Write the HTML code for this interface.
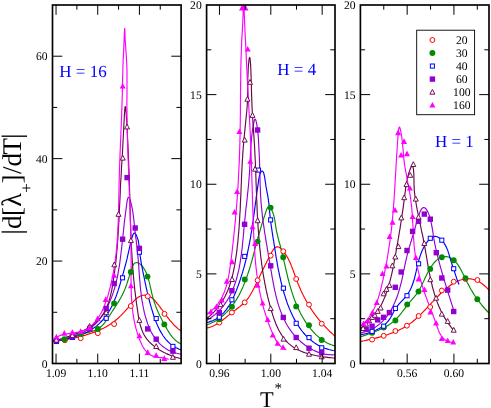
<!DOCTYPE html>
<html><head><meta charset="utf-8"><title>plot</title>
<style>
html,body{margin:0;padding:0;background:#fff}
svg{display:block;will-change:transform;transform:translateZ(0)}
text{font-family:"Liberation Serif","DejaVu Serif",serif;fill:#000;text-rendering:geometricPrecision}
</style></head><body>
<svg width="491" height="408" viewBox="0 0 491 408">
<rect width="491" height="408" fill="#fff"/>
<clipPath id="c1"><rect x="52.5" y="5" width="128.6" height="358.5"/></clipPath>
<g clip-path="url(#c1)">
<path d="M52.5 341.5 L54.5 341.3 L56.5 341.0 L58.4 340.8 L60.4 340.5 L62.3 340.2 L64.3 339.9 L66.2 339.5 L68.1 339.2 L70.0 338.8 L72.0 338.4 L73.9 338.0 L75.8 337.6 L77.7 337.1 L79.6 336.6 L81.6 336.1 L83.5 335.6 L85.4 335.1 L87.3 334.5 L89.2 333.9 L91.1 333.2 L93.0 332.6 L94.9 331.9 L96.7 331.2 L98.6 330.4 L100.4 329.6 L102.2 328.7 L103.9 327.9 L105.7 327.0 L107.4 326.0 L109.1 325.0 L110.7 323.9 L112.3 322.8 L113.9 321.7 L115.4 320.5 L116.9 319.3 L118.3 318.0 L119.7 316.6 L121.1 315.3 L122.5 313.8 L123.9 312.4 L125.3 310.9 L126.6 309.3 L128.0 307.8 L129.4 306.1 L130.8 304.5 L132.3 302.8 L133.8 301.2 L135.3 299.6 L136.8 298.3 L138.4 297.1 L140.1 296.2 L141.7 295.5 L143.4 295.2 L145.1 295.1 L146.8 295.3 L148.5 295.8 L150.1 296.6 L151.7 297.7 L153.2 299.0 L154.7 300.5 L156.1 302.1 L157.5 303.8 L158.8 305.5 L160.1 307.2 L161.3 308.9 L162.6 310.5 L163.8 312.2 L165.0 313.9 L166.2 315.5 L167.4 317.1 L168.6 318.7 L169.8 320.2 L171.1 321.7 L172.4 323.2 L173.7 324.6 L175.0 326.0 L176.5 327.3 L177.9 328.6 L179.5 329.8 L181.1 331.0" fill="none" stroke="#ff0000" stroke-width="1.15" stroke-linejoin="round"/>
<path d="M52.5 341.5 L54.5 341.3 L56.5 341.1 L58.5 340.7 L60.4 340.3 L62.3 339.8 L64.2 339.3 L66.1 338.7 L67.9 338.1 L69.8 337.5 L71.7 336.9 L73.5 336.3 L75.4 335.7 L77.3 335.1 L79.3 334.5 L81.2 334.0 L83.2 333.5 L85.3 333.1 L87.3 332.6 L89.3 332.1 L91.2 331.6 L93.1 331.0 L95.0 330.3 L96.7 329.5 L98.4 328.6 L99.9 327.5 L101.4 326.3 L102.8 324.9 L104.1 323.5 L105.3 321.9 L106.5 320.3 L107.6 318.7 L108.7 317.0 L109.8 315.2 L110.9 313.5 L112.0 311.8 L113.1 310.1 L114.2 308.4 L115.3 306.7 L116.4 305.0 L117.5 303.3 L118.5 301.6 L119.5 299.9 L120.5 298.2 L121.4 296.6 L122.3 294.9 L123.1 293.2 L123.9 291.6 L124.6 289.9 L125.3 288.2 L125.9 286.5 L126.6 284.7 L127.2 282.9 L127.8 281.0 L128.4 279.0 L129.1 276.9 L129.7 274.7 L130.4 272.4 L131.2 269.9 L132.0 267.5 L133.0 265.3 L134.1 263.6 L135.5 262.7 L136.9 262.5 L138.5 263.1 L140.0 264.1 L141.4 265.3 L142.6 266.6 L143.7 268.1 L144.7 269.7 L145.6 271.4 L146.4 273.2 L147.2 275.1 L147.9 277.1 L148.5 279.1 L149.0 281.2 L149.6 283.3 L150.0 285.4 L150.5 287.5 L151.0 289.7 L151.5 291.8 L151.9 293.8 L152.5 295.9 L153.0 297.9 L153.6 299.8 L154.2 301.7 L154.8 303.6 L155.4 305.4 L156.1 307.2 L156.8 309.0 L157.6 310.8 L158.3 312.5 L159.1 314.2 L159.9 315.9 L160.8 317.6 L161.6 319.3 L162.5 321.0 L163.4 322.7 L164.4 324.4 L165.3 326.2 L166.3 327.9 L167.3 329.7 L168.4 331.4 L169.5 333.1 L170.6 334.8 L171.8 336.4 L173.1 337.9 L174.5 339.4 L176.0 340.7 L177.6 341.9 L179.3 343.0 L181.1 343.9" fill="none" stroke="#008b00" stroke-width="1.15" stroke-linejoin="round"/>
<path d="M52.5 341.5 L54.3 341.2 L56.1 340.9 L57.9 340.6 L59.8 340.3 L61.7 339.9 L63.7 339.5 L65.7 339.1 L67.7 338.6 L69.7 338.1 L71.7 337.6 L73.7 337.0 L75.8 336.4 L77.8 335.8 L79.7 335.1 L81.7 334.4 L83.6 333.6 L85.5 332.8 L87.3 331.9 L89.1 330.9 L90.8 330.0 L92.5 328.9 L94.1 327.8 L95.7 326.6 L97.2 325.4 L98.6 324.2 L100.0 322.9 L101.3 321.5 L102.6 320.1 L103.8 318.7 L105.0 317.2 L106.2 315.6 L107.2 314.1 L108.3 312.5 L109.3 310.8 L110.3 309.1 L111.2 307.4 L112.1 305.7 L112.9 303.9 L113.7 302.1 L114.5 300.3 L115.2 298.5 L116.0 296.6 L116.7 294.7 L117.3 292.8 L118.0 290.9 L118.6 288.9 L119.2 287.0 L119.8 285.0 L120.4 283.1 L120.9 281.1 L121.5 279.1 L122.1 277.2 L122.6 275.2 L123.2 273.3 L123.7 271.3 L124.3 269.4 L124.8 267.4 L125.3 265.5 L125.8 263.6 L126.3 261.7 L126.8 259.9 L127.2 258.0 L127.6 256.2 L128.0 254.4 L128.4 252.6 L128.8 250.8 L129.2 249.0 L129.6 247.1 L130.1 245.1 L130.6 243.0 L131.2 240.6 L131.8 238.1 L132.6 235.7 L133.4 233.8 L134.4 233.0 L135.4 233.6 L136.4 235.3 L137.2 237.4 L137.9 239.4 L138.4 241.5 L138.7 243.5 L139.0 245.5 L139.2 247.5 L139.4 249.5 L139.6 251.5 L139.8 253.5 L140.1 255.5 L140.4 257.5 L140.7 259.4 L141.0 261.4 L141.3 263.4 L141.7 265.3 L142.1 267.3 L142.5 269.3 L142.8 271.2 L143.2 273.2 L143.6 275.1 L144.0 277.0 L144.4 279.0 L144.8 280.9 L145.2 282.8 L145.6 284.7 L146.0 286.6 L146.4 288.6 L146.9 290.5 L147.3 292.4 L147.8 294.3 L148.2 296.2 L148.7 298.1 L149.2 300.0 L149.7 301.9 L150.2 303.8 L150.8 305.8 L151.3 307.7 L151.9 309.6 L152.5 311.5 L153.1 313.5 L153.7 315.4 L154.4 317.3 L155.1 319.2 L155.8 321.2 L156.5 323.0 L157.3 324.9 L158.1 326.8 L159.0 328.6 L159.9 330.4 L160.9 332.1 L161.9 333.8 L162.9 335.5 L164.1 337.0 L165.2 338.6 L166.5 340.1 L167.8 341.5 L169.2 342.8 L170.6 344.1 L172.2 345.3 L173.8 346.4 L175.5 347.4 L177.3 348.3 L179.1 349.2 L181.1 349.9" fill="none" stroke="#0000ff" stroke-width="1.15" stroke-linejoin="round"/>
<path d="M52.5 341.5 L54.4 341.1 L56.3 340.7 L58.2 340.2 L60.1 339.8 L62.1 339.3 L64.0 338.9 L66.0 338.4 L68.0 337.9 L69.9 337.3 L71.9 336.8 L73.8 336.1 L75.7 335.5 L77.6 334.8 L79.5 334.1 L81.3 333.3 L83.2 332.4 L84.9 331.5 L86.6 330.6 L88.3 329.5 L89.9 328.4 L91.5 327.3 L93.0 326.1 L94.5 324.8 L95.9 323.4 L97.2 322.0 L98.5 320.5 L99.8 319.0 L101.0 317.5 L102.1 315.9 L103.2 314.2 L104.3 312.5 L105.3 310.8 L106.3 309.0 L107.2 307.3 L108.1 305.5 L108.9 303.6 L109.8 301.8 L110.5 299.9 L111.3 298.0 L112.0 296.1 L112.7 294.2 L113.3 292.3 L113.9 290.4 L114.5 288.5 L115.0 286.5 L115.5 284.6 L116.0 282.6 L116.5 280.7 L117.0 278.7 L117.4 276.7 L117.8 274.8 L118.1 272.8 L118.5 270.8 L118.8 268.9 L119.2 266.9 L119.5 264.9 L119.8 262.9 L120.0 261.0 L120.3 259.0 L120.5 257.1 L120.8 255.1 L121.0 253.2 L121.2 251.3 L121.5 249.4 L121.7 247.5 L121.9 245.6 L122.1 243.7 L122.3 241.8 L122.5 239.9 L122.7 238.1 L122.9 236.3 L123.1 234.4 L123.3 232.6 L123.5 230.7 L123.7 228.8 L123.9 226.9 L124.1 225.0 L124.3 223.0 L124.6 220.9 L124.8 218.8 L125.1 216.6 L125.4 214.4 L125.7 212.0 L126.0 209.6 L126.3 207.0 L126.7 204.4 L127.0 201.9 L127.4 199.7 L127.9 198.1 L128.4 197.3 L129.0 197.5 L129.6 198.6 L130.2 200.3 L130.8 202.2 L131.3 204.3 L131.8 206.3 L132.2 208.4 L132.6 210.5 L132.9 212.6 L133.2 214.8 L133.5 216.9 L133.7 219.1 L134.0 221.2 L134.2 223.3 L134.4 225.4 L134.7 227.5 L134.9 229.6 L135.1 231.6 L135.4 233.6 L135.6 235.6 L135.8 237.6 L136.1 239.5 L136.3 241.5 L136.5 243.4 L136.8 245.4 L137.0 247.3 L137.2 249.2 L137.4 251.2 L137.6 253.1 L137.8 255.0 L138.0 257.0 L138.1 258.9 L138.3 260.9 L138.5 262.8 L138.6 264.8 L138.8 266.8 L138.9 268.7 L139.0 270.7 L139.2 272.7 L139.3 274.7 L139.5 276.7 L139.6 278.7 L139.8 280.6 L140.0 282.6 L140.1 284.6 L140.3 286.6 L140.5 288.6 L140.7 290.6 L141.0 292.6 L141.2 294.6 L141.5 296.6 L141.7 298.6 L142.0 300.5 L142.4 302.5 L142.7 304.5 L143.1 306.5 L143.5 308.5 L143.9 310.4 L144.3 312.4 L144.8 314.3 L145.3 316.3 L145.9 318.2 L146.5 320.1 L147.1 322.0 L147.7 323.9 L148.5 325.8 L149.2 327.6 L150.0 329.4 L150.8 331.2 L151.7 332.9 L152.7 334.6 L153.7 336.2 L154.8 337.8 L155.9 339.3 L157.1 340.8 L158.3 342.2 L159.6 343.6 L161.0 344.9 L162.4 346.2 L163.9 347.3 L165.5 348.4 L167.2 349.4 L168.9 350.4 L170.8 351.2 L172.7 352.0 L174.6 352.6 L176.7 353.2 L178.9 353.7 L181.1 354.1" fill="none" stroke="#9400d3" stroke-width="1.15" stroke-linejoin="round"/>
<path d="M52.5 341.5 L54.2 341.0 L56.0 340.4 L57.8 339.9 L59.6 339.3 L61.5 338.7 L63.4 338.2 L65.4 337.6 L67.3 336.9 L69.3 336.3 L71.2 335.6 L73.2 334.9 L75.2 334.1 L77.1 333.4 L79.0 332.6 L81.0 331.7 L82.8 330.9 L84.7 329.9 L86.5 329.0 L88.3 328.0 L90.0 326.9 L91.7 325.8 L93.3 324.7 L94.8 323.5 L96.3 322.2 L97.7 320.9 L99.0 319.5 L100.3 318.0 L101.4 316.5 L102.5 315.0 L103.6 313.4 L104.5 311.7 L105.4 310.0 L106.2 308.3 L107.0 306.5 L107.7 304.7 L108.4 302.9 L109.0 301.0 L109.5 299.1 L110.1 297.2 L110.6 295.2 L111.0 293.3 L111.5 291.3 L111.9 289.3 L112.2 287.3 L112.6 285.3 L112.9 283.3 L113.2 281.3 L113.5 279.2 L113.8 277.2 L114.1 275.2 L114.4 273.2 L114.7 271.2 L114.9 269.2 L115.2 267.2 L115.4 265.3 L115.6 263.3 L115.9 261.3 L116.1 259.3 L116.3 257.3 L116.5 255.3 L116.7 253.3 L116.8 251.3 L117.0 249.4 L117.2 247.4 L117.3 245.4 L117.5 243.4 L117.6 241.5 L117.8 239.5 L117.9 237.5 L118.0 235.5 L118.2 233.5 L118.3 231.6 L118.4 229.6 L118.5 227.6 L118.6 225.6 L118.7 223.7 L118.9 221.7 L119.0 219.7 L119.1 217.7 L119.2 215.8 L119.2 213.8 L119.3 211.8 L119.4 209.8 L119.5 207.8 L119.6 205.9 L119.7 203.9 L119.8 201.9 L119.9 199.9 L120.0 197.9 L120.1 195.9 L120.2 193.9 L120.3 191.9 L120.3 189.9 L120.4 187.9 L120.5 185.9 L120.6 183.9 L120.7 181.9 L120.8 179.9 L121.0 177.9 L121.1 175.9 L121.2 173.9 L121.3 171.9 L121.4 169.8 L121.5 167.8 L121.6 165.8 L121.8 163.8 L121.9 161.8 L122.0 159.8 L122.1 157.8 L122.2 155.8 L122.4 153.8 L122.5 151.9 L122.6 149.9 L122.7 147.9 L122.8 146.0 L122.9 144.1 L123.0 142.1 L123.1 140.2 L123.2 138.3 L123.3 136.4 L123.4 134.5 L123.5 132.6 L123.6 130.6 L123.7 128.6 L123.8 126.5 L123.9 124.3 L124.0 122.1 L124.2 119.7 L124.3 117.2 L124.4 114.6 L124.6 112.1 L124.8 109.8 L124.9 107.9 L125.1 106.8 L125.3 106.5 L125.5 107.2 L125.7 108.6 L125.9 110.6 L126.1 112.8 L126.3 115.0 L126.4 117.2 L126.6 119.4 L126.7 121.6 L126.8 123.8 L126.9 126.0 L127.1 128.2 L127.2 130.3 L127.3 132.5 L127.4 134.6 L127.5 136.7 L127.6 138.7 L127.7 140.8 L127.8 142.8 L127.9 144.9 L128.0 146.9 L128.1 148.9 L128.2 150.9 L128.3 152.9 L128.4 154.9 L128.4 156.8 L128.5 158.8 L128.6 160.8 L128.7 162.7 L128.7 164.7 L128.8 166.6 L128.9 168.6 L129.0 170.5 L129.0 172.4 L129.1 174.4 L129.2 176.3 L129.2 178.3 L129.3 180.2 L129.3 182.2 L129.4 184.1 L129.5 186.1 L129.5 188.1 L129.6 190.0 L129.6 192.0 L129.7 194.0 L129.7 196.0 L129.8 197.9 L129.8 199.9 L129.9 201.9 L129.9 203.9 L130.0 205.9 L130.1 207.9 L130.1 209.9 L130.2 211.9 L130.2 213.9 L130.3 215.9 L130.3 217.8 L130.4 219.9 L130.5 221.9 L130.5 223.9 L130.6 225.9 L130.7 227.9 L130.7 229.9 L130.8 231.9 L130.9 233.9 L131.0 235.9 L131.1 237.9 L131.2 239.9 L131.2 241.9 L131.3 243.9 L131.4 245.9 L131.5 247.9 L131.6 249.9 L131.7 251.9 L131.9 253.9 L132.0 255.9 L132.1 257.9 L132.2 259.9 L132.4 261.9 L132.5 263.9 L132.6 265.9 L132.8 267.9 L132.9 269.9 L133.1 271.9 L133.3 273.9 L133.4 275.8 L133.6 277.8 L133.8 279.8 L134.0 281.8 L134.2 283.7 L134.4 285.7 L134.6 287.7 L134.8 289.7 L135.0 291.6 L135.3 293.6 L135.5 295.6 L135.8 297.5 L136.0 299.5 L136.3 301.5 L136.5 303.4 L136.8 305.4 L137.1 307.4 L137.4 309.4 L137.7 311.4 L138.0 313.3 L138.3 315.3 L138.6 317.3 L139.0 319.3 L139.4 321.2 L139.8 323.2 L140.3 325.1 L140.9 327.0 L141.5 328.8 L142.2 330.7 L142.9 332.4 L143.8 334.2 L144.7 335.9 L145.8 337.5 L146.9 339.1 L148.2 340.6 L149.5 342.1 L150.9 343.5 L152.4 344.8 L154.0 346.1 L155.6 347.4 L157.3 348.5 L159.1 349.7 L160.9 350.7 L162.7 351.7 L164.5 352.7 L166.4 353.6 L168.3 354.4 L170.2 355.2 L172.0 356.0 L173.9 356.6 L175.7 357.3 L177.6 357.8 L179.3 358.3 L181.1 358.8" fill="none" stroke="#670748" stroke-width="1.15" stroke-linejoin="round"/>
<path d="M52.5 341.0 L53.8 339.5 L55.3 338.2 L56.9 337.1 L58.6 336.2 L60.4 335.4 L62.3 334.8 L64.3 334.4 L66.3 334.0 L68.3 333.6 L70.4 333.3 L72.5 333.1 L74.5 332.8 L76.5 332.4 L78.5 332.0 L80.5 331.6 L82.3 331.0 L84.1 330.3 L85.8 329.4 L87.4 328.5 L89.0 327.5 L90.5 326.4 L91.9 325.1 L93.2 323.8 L94.5 322.5 L95.8 321.0 L97.0 319.5 L98.1 317.9 L99.2 316.2 L100.2 314.5 L101.2 312.7 L102.1 310.9 L103.0 309.1 L103.8 307.2 L104.6 305.3 L105.3 303.3 L106.0 301.3 L106.7 299.3 L107.4 297.3 L108.0 295.3 L108.6 293.3 L109.1 291.3 L109.6 289.3 L110.2 287.3 L110.6 285.3 L111.1 283.3 L111.5 281.4 L112.0 279.5 L112.4 277.5 L112.8 275.6 L113.1 273.7 L113.5 271.8 L113.8 269.8 L114.1 267.9 L114.4 266.0 L114.7 264.1 L115.0 262.2 L115.3 260.3 L115.5 258.3 L115.7 256.4 L116.0 254.4 L116.2 252.5 L116.4 250.5 L116.6 248.6 L116.7 246.6 L116.9 244.6 L117.1 242.7 L117.2 240.7 L117.3 238.7 L117.5 236.7 L117.6 234.7 L117.7 232.8 L117.8 230.8 L117.9 228.8 L118.0 226.8 L118.1 224.8 L118.2 222.7 L118.2 220.7 L118.3 218.7 L118.4 216.7 L118.4 214.7 L118.5 212.7 L118.5 210.7 L118.6 208.7 L118.6 206.6 L118.7 204.6 L118.7 202.6 L118.8 200.6 L118.8 198.6 L118.8 196.5 L118.9 194.5 L118.9 192.5 L119.0 190.5 L119.0 188.5 L119.0 186.5 L119.1 184.5 L119.1 182.4 L119.2 180.4 L119.2 178.4 L119.3 176.4 L119.3 174.4 L119.4 172.4 L119.5 170.4 L119.5 168.4 L119.6 166.4 L119.7 164.4 L119.7 162.4 L119.8 160.4 L119.9 158.5 L120.0 156.5 L120.0 154.5 L120.1 152.5 L120.2 150.5 L120.3 148.5 L120.4 146.5 L120.4 144.6 L120.5 142.6 L120.6 140.6 L120.7 138.6 L120.8 136.6 L120.9 134.6 L120.9 132.7 L121.0 130.7 L121.1 128.7 L121.2 126.7 L121.3 124.7 L121.3 122.8 L121.4 120.8 L121.5 118.8 L121.6 116.8 L121.7 114.8 L121.7 112.8 L121.8 110.9 L121.9 108.9 L121.9 106.9 L122.0 104.9 L122.0 102.9 L122.1 100.9 L122.2 98.9 L122.2 96.9 L122.3 94.9 L122.3 92.9 L122.4 90.9 L122.4 88.9 L122.4 86.9 L122.5 84.9 L122.5 82.9 L122.6 80.9 L122.6 78.9 L122.7 76.9 L122.7 74.9 L122.8 73.0 L122.8 71.0 L122.9 69.0 L122.9 67.0 L123.0 65.0 L123.1 63.0 L123.1 61.1 L123.2 59.1 L123.3 57.1 L123.4 55.1 L123.5 53.1 L123.6 51.1 L123.7 49.1 L123.8 47.0 L123.9 44.8 L124.0 42.6 L124.1 40.3 L124.2 37.9 L124.3 35.5 L124.4 33.1 L124.5 30.9 L124.6 29.3 L124.7 28.4 L124.7 28.6 L124.8 29.7 L124.9 31.4 L125.0 33.7 L125.0 36.1 L125.1 38.6 L125.2 40.9 L125.4 43.2 L125.5 45.4 L125.7 47.5 L125.8 49.6 L126.0 51.6 L126.1 53.6 L126.3 55.6 L126.4 57.6 L126.5 59.5 L126.6 61.5 L126.7 63.5 L126.8 65.4 L126.9 67.4 L126.9 69.4 L127.0 71.4 L127.0 73.4 L127.0 75.4 L127.0 77.4 L127.0 79.4 L127.0 81.4 L127.0 83.4 L127.0 85.4 L127.0 87.4 L127.0 89.4 L127.0 91.4 L127.0 93.4 L127.0 95.4 L127.0 97.4 L126.9 99.4 L126.9 101.4 L126.9 103.4 L126.9 105.4 L126.9 107.4 L127.0 109.4 L127.0 111.4 L127.0 113.4 L127.0 115.4 L127.0 117.4 L127.1 119.4 L127.1 121.4 L127.1 123.4 L127.1 125.4 L127.2 127.3 L127.2 129.3 L127.3 131.3 L127.3 133.3 L127.4 135.3 L127.4 137.3 L127.5 139.3 L127.5 141.3 L127.6 143.3 L127.6 145.3 L127.7 147.2 L127.8 149.2 L127.8 151.2 L127.9 153.2 L128.0 155.2 L128.0 157.2 L128.1 159.2 L128.2 161.1 L128.3 163.1 L128.3 165.1 L128.4 167.1 L128.5 169.1 L128.6 171.1 L128.6 173.0 L128.7 175.0 L128.8 177.0 L128.9 179.0 L128.9 181.0 L129.0 183.0 L129.1 185.0 L129.2 186.9 L129.2 188.9 L129.3 190.9 L129.4 192.9 L129.5 194.9 L129.6 196.9 L129.6 198.9 L129.7 200.8 L129.8 202.8 L129.8 204.8 L129.9 206.8 L130.0 208.8 L130.1 210.8 L130.1 212.8 L130.2 214.8 L130.3 216.8 L130.3 218.8 L130.4 220.8 L130.4 222.8 L130.5 224.8 L130.5 226.7 L130.6 228.7 L130.7 230.7 L130.7 232.7 L130.7 234.7 L130.8 236.7 L130.8 238.7 L130.9 240.7 L130.9 242.8 L130.9 244.8 L131.0 246.8 L131.0 248.8 L131.0 250.8 L131.0 252.8 L131.0 254.8 L131.1 256.8 L131.1 258.8 L131.1 260.8 L131.1 262.9 L131.1 264.9 L131.1 266.9 L131.1 268.9 L131.0 270.9 L131.0 273.0 L131.0 275.0 L131.0 277.0 L131.0 279.0 L131.1 281.0 L131.1 283.1 L131.1 285.1 L131.1 287.1 L131.2 289.1 L131.2 291.1 L131.3 293.1 L131.4 295.1 L131.5 297.1 L131.6 299.1 L131.7 301.1 L131.9 303.1 L132.0 305.0 L132.2 307.0 L132.4 309.0 L132.7 311.0 L132.9 312.9 L133.2 314.9 L133.5 316.8 L133.8 318.8 L134.2 320.7 L134.6 322.6 L135.0 324.5 L135.5 326.4 L135.9 328.3 L136.5 330.2 L137.0 332.1 L137.6 334.0 L138.2 335.9 L138.9 337.7 L139.6 339.6 L140.4 341.4 L141.2 343.2 L142.0 345.0 L142.9 346.7 L143.9 348.4 L145.0 350.0 L146.2 351.4 L147.5 352.8 L149.0 354.0 L150.6 355.1 L152.3 355.9 L154.2 356.6 L156.3 357.1 L158.6 357.4 L160.8 357.6 L163.1 357.9 L165.1 358.2 L167.0 358.7 L168.6 359.5" fill="none" stroke="#ff00ff" stroke-width="1.15" stroke-linejoin="round"/>
<circle cx="64.9" cy="340.3" r="2.45" fill="#fff" stroke="#ff0000" stroke-width="1"/>
<circle cx="80.7" cy="338.2" r="2.45" fill="#fff" stroke="#ff0000" stroke-width="1"/>
<circle cx="97.8" cy="333.2" r="2.45" fill="#fff" stroke="#ff0000" stroke-width="1"/>
<circle cx="114.1" cy="324.1" r="2.45" fill="#fff" stroke="#ff0000" stroke-width="1"/>
<circle cx="130.8" cy="306.0" r="2.45" fill="#fff" stroke="#ff0000" stroke-width="1"/>
<circle cx="147.7" cy="296.3" r="2.45" fill="#fff" stroke="#ff0000" stroke-width="1"/>
<circle cx="164.5" cy="313.9" r="2.45" fill="#fff" stroke="#ff0000" stroke-width="1"/>
<circle cx="64.3" cy="339.3" r="2.95" fill="#008b00"/>
<circle cx="80.7" cy="334.1" r="2.95" fill="#008b00"/>
<circle cx="97.8" cy="329.0" r="2.95" fill="#008b00"/>
<circle cx="114.1" cy="303.4" r="2.95" fill="#008b00"/>
<circle cx="130.8" cy="272.0" r="2.95" fill="#008b00"/>
<circle cx="147.5" cy="276.6" r="2.95" fill="#008b00"/>
<circle cx="164.3" cy="324.4" r="2.95" fill="#008b00"/>
<rect x="54.35" y="339.45" width="4.1" height="4.1" fill="#fff" stroke="#0000ff" stroke-width="1"/>
<rect x="70.35" y="335.35" width="4.1" height="4.1" fill="#fff" stroke="#0000ff" stroke-width="1"/>
<rect x="87.75" y="326.35" width="4.1" height="4.1" fill="#fff" stroke="#0000ff" stroke-width="1"/>
<rect x="104.15" y="316.25" width="4.1" height="4.1" fill="#fff" stroke="#0000ff" stroke-width="1"/>
<rect x="120.45" y="275.75" width="4.1" height="4.1" fill="#fff" stroke="#0000ff" stroke-width="1"/>
<rect x="137.35" y="250.15" width="4.1" height="4.1" fill="#fff" stroke="#0000ff" stroke-width="1"/>
<rect x="154.15" y="316.45" width="4.1" height="4.1" fill="#fff" stroke="#0000ff" stroke-width="1"/>
<rect x="170.85" y="344.35" width="4.1" height="4.1" fill="#fff" stroke="#0000ff" stroke-width="1"/>
<rect x="53.7" y="337.8" width="5.4" height="5.4" fill="#9400d3"/>
<rect x="69.7" y="333.8" width="5.4" height="5.4" fill="#9400d3"/>
<rect x="87.1" y="326.3" width="5.4" height="5.4" fill="#9400d3"/>
<rect x="103.5" y="305.8" width="5.4" height="5.4" fill="#9400d3"/>
<rect x="111.5" y="280.8" width="5.4" height="5.4" fill="#9400d3"/>
<rect x="119.9" y="236.5" width="5.4" height="5.4" fill="#9400d3"/>
<rect x="124.4" y="174.9" width="5.4" height="5.4" fill="#9400d3"/>
<rect x="132.5" y="225.3" width="5.4" height="5.4" fill="#9400d3"/>
<rect x="136.7" y="245.7" width="5.4" height="5.4" fill="#9400d3"/>
<rect x="145.0" y="326.2" width="5.4" height="5.4" fill="#9400d3"/>
<rect x="153.5" y="336.5" width="5.4" height="5.4" fill="#9400d3"/>
<rect x="170.2" y="348.5" width="5.4" height="5.4" fill="#9400d3"/>
<path d="M56.4 337.3 L58.9 342.1 L53.9 342.1 Z" fill="#fff" stroke="#670748" stroke-width="0.95"/>
<path d="M72.4 332.8 L74.9 337.6 L69.9 337.6 Z" fill="#fff" stroke="#670748" stroke-width="0.95"/>
<path d="M89.6 323.5 L92.1 328.3 L87.1 328.3 Z" fill="#fff" stroke="#670748" stroke-width="0.95"/>
<path d="M106.2 309.9 L108.7 314.7 L103.7 314.7 Z" fill="#fff" stroke="#670748" stroke-width="0.95"/>
<path d="M114.3 262.0 L116.8 266.8 L111.8 266.8 Z" fill="#fff" stroke="#670748" stroke-width="0.95"/>
<path d="M118.5 211.5 L121.0 216.3 L116.0 216.3 Z" fill="#fff" stroke="#670748" stroke-width="0.95"/>
<path d="M122.8 155.3 L125.3 160.1 L120.3 160.1 Z" fill="#fff" stroke="#670748" stroke-width="0.95"/>
<path d="M127.0 124.1 L129.5 128.9 L124.5 128.9 Z" fill="#fff" stroke="#670748" stroke-width="0.95"/>
<path d="M130.9 237.8 L133.4 242.6 L128.4 242.6 Z" fill="#fff" stroke="#670748" stroke-width="0.95"/>
<path d="M139.4 317.6 L141.9 322.4 L136.9 322.4 Z" fill="#fff" stroke="#670748" stroke-width="0.95"/>
<path d="M156.2 343.7 L158.7 348.5 L153.7 348.5 Z" fill="#fff" stroke="#670748" stroke-width="0.95"/>
<path d="M172.9 354.5 L175.4 359.3 L170.4 359.3 Z" fill="#fff" stroke="#670748" stroke-width="0.95"/>
<path d="M56.4 333.8 L59.4 339.4 L53.4 339.4 Z" fill="#ff00ff"/>
<path d="M64.3 330.1 L67.3 335.7 L61.3 335.7 Z" fill="#ff00ff"/>
<path d="M72.4 329.2 L75.4 334.8 L69.4 334.8 Z" fill="#ff00ff"/>
<path d="M80.7 328.3 L83.7 333.9 L77.7 333.9 Z" fill="#ff00ff"/>
<path d="M89.6 324.4 L92.6 330.0 L86.6 330.0 Z" fill="#ff00ff"/>
<path d="M97.6 315.4 L100.6 321.0 L94.6 321.0 Z" fill="#ff00ff"/>
<path d="M105.7 296.3 L108.7 301.9 L102.7 301.9 Z" fill="#ff00ff"/>
<path d="M114.1 272.2 L117.1 277.8 L111.1 277.8 Z" fill="#ff00ff"/>
<path d="M122.7 82.9 L125.7 88.5 L119.7 88.5 Z" fill="#ff00ff"/>
<path d="M131.0 282.7 L134.0 288.3 L128.0 288.3 Z" fill="#ff00ff"/>
<path d="M139.4 332.7 L142.4 338.3 L136.4 338.3 Z" fill="#ff00ff"/>
<path d="M147.7 349.3 L150.7 354.9 L144.7 354.9 Z" fill="#ff00ff"/>
<path d="M156.2 352.2 L159.2 357.8 L153.2 357.8 Z" fill="#ff00ff"/>
<path d="M164.3 355.3 L167.3 360.9 L161.3 360.9 Z" fill="#ff00ff"/>
</g>
<clipPath id="c2"><rect x="206.6" y="5" width="128.4" height="358.5"/></clipPath>
<g clip-path="url(#c2)">
<path d="M206.6 328.0 L208.6 327.6 L210.6 327.0 L212.5 326.3 L214.3 325.5 L216.0 324.6 L217.7 323.6 L219.4 322.5 L221.0 321.3 L222.6 320.2 L224.1 318.9 L225.7 317.7 L227.2 316.4 L228.8 315.1 L230.3 313.9 L231.9 312.6 L233.5 311.4 L235.1 310.2 L236.7 309.0 L238.3 307.8 L239.9 306.6 L241.4 305.3 L242.9 304.0 L244.4 302.6 L245.7 301.2 L247.0 299.7 L248.2 298.1 L249.3 296.5 L250.4 294.8 L251.4 293.0 L252.4 291.3 L253.3 289.5 L254.3 287.7 L255.1 285.9 L256.0 284.1 L256.8 282.3 L257.7 280.5 L258.5 278.7 L259.3 276.9 L260.2 275.2 L261.0 273.5 L261.8 271.7 L262.7 270.0 L263.6 268.2 L264.5 266.4 L265.4 264.6 L266.3 262.7 L267.3 260.8 L268.2 258.9 L269.3 256.9 L270.3 254.9 L271.4 252.8 L272.6 250.8 L273.8 249.0 L275.0 247.7 L276.4 246.9 L277.8 246.8 L279.2 247.3 L280.7 248.3 L282.0 249.7 L283.4 251.2 L284.6 252.8 L285.7 254.5 L286.8 256.2 L287.8 258.0 L288.7 259.8 L289.6 261.6 L290.5 263.5 L291.2 265.4 L292.0 267.4 L292.7 269.3 L293.5 271.3 L294.2 273.2 L294.9 275.2 L295.6 277.1 L296.3 279.1 L297.0 281.0 L297.7 282.9 L298.5 284.8 L299.3 286.7 L300.1 288.5 L300.9 290.4 L301.8 292.2 L302.6 294.0 L303.5 295.8 L304.4 297.5 L305.4 299.3 L306.3 301.0 L307.3 302.7 L308.3 304.4 L309.3 306.1 L310.3 307.7 L311.4 309.4 L312.5 311.0 L313.6 312.6 L314.7 314.2 L315.9 315.8 L317.1 317.3 L318.3 318.9 L319.5 320.4 L320.8 321.9 L322.1 323.4 L323.4 324.9 L324.8 326.3 L326.1 327.7 L327.5 329.2 L329.0 330.6 L330.4 332.0 L331.9 333.3 L333.4 334.7 L335.0 336.0" fill="none" stroke="#ff0000" stroke-width="1.15" stroke-linejoin="round"/>
<path d="M206.6 325.0 L208.6 324.3 L210.5 323.5 L212.3 322.6 L214.1 321.7 L215.8 320.7 L217.5 319.7 L219.1 318.6 L220.7 317.4 L222.2 316.2 L223.7 315.0 L225.1 313.7 L226.5 312.4 L227.8 311.0 L229.1 309.6 L230.3 308.1 L231.6 306.6 L232.7 305.1 L233.9 303.5 L234.9 301.9 L236.0 300.3 L237.0 298.6 L238.0 296.9 L239.0 295.2 L239.9 293.4 L240.8 291.6 L241.6 289.8 L242.5 288.0 L243.3 286.1 L244.0 284.3 L244.8 282.4 L245.5 280.5 L246.2 278.6 L246.9 276.7 L247.6 274.7 L248.2 272.8 L248.9 270.8 L249.5 268.8 L250.1 266.9 L250.7 264.9 L251.2 262.9 L251.8 261.0 L252.3 259.0 L252.9 257.0 L253.4 255.1 L253.9 253.1 L254.4 251.2 L254.9 249.2 L255.4 247.3 L255.9 245.4 L256.4 243.5 L256.9 241.6 L257.4 239.7 L257.9 237.8 L258.5 236.0 L259.0 234.2 L259.5 232.3 L260.0 230.5 L260.6 228.6 L261.1 226.8 L261.7 224.9 L262.3 223.0 L262.8 221.1 L263.5 219.2 L264.1 217.2 L264.8 215.2 L265.4 213.2 L266.1 211.1 L266.9 209.0 L267.7 207.4 L268.6 206.6 L269.6 207.0 L270.8 208.3 L271.8 210.3 L272.8 212.6 L273.6 214.8 L274.2 217.0 L274.6 219.0 L274.9 221.0 L275.2 222.9 L275.5 224.9 L275.8 226.8 L276.1 228.7 L276.4 230.6 L276.8 232.5 L277.3 234.4 L277.7 236.3 L278.2 238.2 L278.7 240.2 L279.2 242.1 L279.8 244.0 L280.3 245.9 L280.8 247.9 L281.3 249.8 L281.8 251.8 L282.3 253.7 L282.7 255.7 L283.2 257.6 L283.6 259.6 L284.1 261.5 L284.5 263.5 L285.0 265.4 L285.4 267.4 L285.9 269.3 L286.3 271.3 L286.8 273.2 L287.3 275.1 L287.7 277.1 L288.2 279.0 L288.7 280.9 L289.2 282.8 L289.7 284.7 L290.3 286.7 L290.8 288.5 L291.4 290.4 L292.0 292.3 L292.6 294.2 L293.2 296.0 L293.9 297.9 L294.5 299.7 L295.2 301.6 L296.0 303.4 L296.7 305.2 L297.5 307.0 L298.3 308.8 L299.2 310.6 L300.0 312.3 L300.9 314.1 L301.9 315.8 L302.9 317.5 L303.9 319.2 L304.9 320.9 L306.0 322.6 L307.2 324.2 L308.4 325.8 L309.6 327.5 L310.9 329.1 L312.2 330.6 L313.5 332.1 L314.9 333.6 L316.4 335.1 L317.9 336.4 L319.4 337.8 L321.0 339.0 L322.6 340.2 L324.2 341.3 L325.9 342.3 L327.6 343.2 L329.4 344.1 L331.2 344.8 L333.1 345.4 L335.0 345.9" fill="none" stroke="#008b00" stroke-width="1.15" stroke-linejoin="round"/>
<path d="M206.6 322.6 L208.7 322.1 L210.7 321.4 L212.6 320.7 L214.4 319.8 L216.1 318.9 L217.7 317.8 L219.3 316.7 L220.8 315.5 L222.2 314.2 L223.6 312.8 L224.8 311.4 L226.1 309.9 L227.2 308.3 L228.3 306.7 L229.4 305.0 L230.4 303.3 L231.3 301.5 L232.3 299.7 L233.1 297.9 L234.0 296.0 L234.8 294.2 L235.6 292.3 L236.4 290.4 L237.1 288.5 L237.8 286.6 L238.5 284.7 L239.2 282.8 L239.9 280.8 L240.5 278.9 L241.1 277.0 L241.7 275.1 L242.3 273.2 L242.9 271.2 L243.4 269.3 L244.0 267.4 L244.5 265.4 L245.0 263.5 L245.5 261.6 L246.0 259.6 L246.4 257.7 L246.9 255.8 L247.3 253.8 L247.7 251.9 L248.1 249.9 L248.5 248.0 L248.9 246.1 L249.3 244.1 L249.7 242.2 L250.0 240.2 L250.4 238.3 L250.7 236.4 L251.0 234.4 L251.3 232.5 L251.7 230.6 L252.0 228.6 L252.3 226.7 L252.5 224.8 L252.8 222.8 L253.1 220.9 L253.4 219.0 L253.6 217.1 L253.9 215.1 L254.2 213.2 L254.4 211.3 L254.7 209.3 L254.9 207.4 L255.2 205.4 L255.4 203.4 L255.7 201.5 L256.0 199.4 L256.2 197.4 L256.5 195.4 L256.8 193.3 L257.1 191.2 L257.4 189.1 L257.7 186.9 L258.0 184.8 L258.3 182.6 L258.6 180.3 L259.0 178.1 L259.4 176.1 L260.0 174.2 L260.6 172.5 L261.4 171.3 L262.3 171.0 L263.1 171.8 L263.8 173.3 L264.3 175.5 L264.8 178.1 L265.2 180.8 L265.6 183.5 L265.9 185.9 L266.3 188.1 L266.7 190.2 L267.0 192.1 L267.4 193.9 L267.7 195.7 L268.0 197.4 L268.3 199.1 L268.5 200.9 L268.8 202.7 L269.0 204.6 L269.2 206.5 L269.4 208.4 L269.5 210.4 L269.7 212.5 L269.9 214.5 L270.1 216.5 L270.3 218.6 L270.6 220.6 L270.8 222.7 L271.1 224.7 L271.4 226.7 L271.7 228.7 L272.0 230.8 L272.3 232.8 L272.6 234.8 L272.9 236.8 L273.2 238.7 L273.6 240.7 L273.9 242.7 L274.2 244.6 L274.5 246.6 L274.8 248.6 L275.1 250.5 L275.4 252.4 L275.7 254.4 L276.0 256.3 L276.3 258.2 L276.7 260.2 L277.0 262.1 L277.3 264.0 L277.7 266.0 L278.0 267.9 L278.4 269.8 L278.8 271.7 L279.2 273.6 L279.6 275.6 L280.0 277.5 L280.5 279.4 L280.9 281.3 L281.4 283.3 L281.9 285.2 L282.4 287.1 L282.9 289.1 L283.4 291.0 L284.0 293.0 L284.6 294.9 L285.2 296.9 L285.8 298.8 L286.5 300.7 L287.1 302.7 L287.8 304.6 L288.6 306.5 L289.3 308.4 L290.1 310.3 L290.9 312.1 L291.8 314.0 L292.6 315.8 L293.5 317.6 L294.5 319.4 L295.5 321.2 L296.5 322.9 L297.5 324.6 L298.6 326.2 L299.7 327.9 L300.8 329.4 L302.0 331.0 L303.2 332.5 L304.5 334.0 L305.8 335.4 L307.2 336.8 L308.5 338.1 L310.0 339.4 L311.5 340.6 L313.0 341.8 L314.5 342.9 L316.2 343.9 L317.8 344.9 L319.5 345.9 L321.3 346.7 L323.1 347.5 L324.9 348.3 L326.8 348.9 L328.8 349.5 L330.8 350.0 L332.9 350.5 L335.0 350.8" fill="none" stroke="#0000ff" stroke-width="1.15" stroke-linejoin="round"/>
<path d="M206.6 320.4 L208.4 319.3 L210.2 318.2 L211.8 317.0 L213.5 315.8 L215.0 314.6 L216.5 313.3 L217.9 311.9 L219.3 310.5 L220.7 309.1 L221.9 307.7 L223.2 306.2 L224.3 304.7 L225.4 303.1 L226.5 301.5 L227.5 299.9 L228.5 298.3 L229.5 296.6 L230.3 294.9 L231.2 293.2 L232.0 291.4 L232.8 289.7 L233.5 287.8 L234.2 286.0 L234.8 284.2 L235.5 282.3 L236.1 280.4 L236.6 278.5 L237.1 276.6 L237.6 274.7 L238.1 272.7 L238.6 270.7 L239.0 268.8 L239.4 266.8 L239.7 264.8 L240.1 262.8 L240.4 260.7 L240.7 258.7 L241.0 256.7 L241.3 254.6 L241.6 252.6 L241.8 250.5 L242.1 248.5 L242.3 246.4 L242.5 244.4 L242.7 242.3 L242.9 240.3 L243.1 238.2 L243.3 236.2 L243.5 234.1 L243.7 232.1 L243.8 230.1 L244.0 228.0 L244.2 226.0 L244.4 224.0 L244.6 222.0 L244.8 220.0 L245.0 218.1 L245.2 216.1 L245.4 214.2 L245.6 212.2 L245.8 210.3 L246.0 208.3 L246.2 206.4 L246.5 204.5 L246.7 202.5 L246.9 200.6 L247.1 198.7 L247.3 196.8 L247.5 194.9 L247.7 192.9 L247.9 191.0 L248.1 189.1 L248.3 187.2 L248.5 185.2 L248.7 183.3 L248.8 181.4 L249.0 179.4 L249.1 177.5 L249.3 175.5 L249.4 173.5 L249.6 171.5 L249.7 169.5 L249.8 167.5 L249.9 165.5 L250.0 163.5 L250.1 161.5 L250.2 159.4 L250.3 157.4 L250.4 155.3 L250.5 153.3 L250.6 151.2 L250.7 149.2 L250.9 147.2 L251.0 145.1 L251.1 143.1 L251.3 141.1 L251.5 139.0 L251.7 137.0 L251.9 135.0 L252.1 132.9 L252.4 130.9 L252.7 128.8 L253.1 126.6 L253.5 124.4 L253.9 122.1 L254.4 120.2 L254.9 119.1 L255.5 119.4 L256.0 120.8 L256.5 122.8 L256.9 125.1 L257.3 127.3 L257.6 129.5 L257.8 131.7 L258.0 133.9 L258.2 136.1 L258.4 138.2 L258.5 140.3 L258.6 142.3 L258.7 144.4 L258.8 146.4 L258.9 148.4 L259.0 150.4 L259.1 152.3 L259.2 154.3 L259.3 156.2 L259.4 158.2 L259.4 160.1 L259.5 162.0 L259.6 164.0 L259.6 165.9 L259.7 167.9 L259.7 169.8 L259.8 171.8 L259.9 173.8 L259.9 175.8 L260.0 177.8 L260.0 179.8 L260.1 181.8 L260.1 183.8 L260.2 185.9 L260.3 187.9 L260.4 189.9 L260.4 191.9 L260.5 194.0 L260.6 196.0 L260.8 198.0 L260.9 200.0 L261.0 202.0 L261.2 204.0 L261.4 206.0 L261.6 208.0 L261.8 210.0 L262.0 212.0 L262.2 214.0 L262.4 215.9 L262.6 217.9 L262.9 219.9 L263.1 221.8 L263.4 223.8 L263.7 225.7 L264.0 227.7 L264.3 229.6 L264.5 231.6 L264.8 233.5 L265.2 235.5 L265.5 237.4 L265.8 239.4 L266.1 241.3 L266.4 243.2 L266.8 245.2 L267.1 247.1 L267.4 249.1 L267.7 251.1 L268.1 253.0 L268.4 255.0 L268.8 256.9 L269.1 258.9 L269.4 260.9 L269.8 262.8 L270.1 264.8 L270.5 266.8 L270.8 268.8 L271.1 270.8 L271.5 272.8 L271.8 274.8 L272.1 276.8 L272.5 278.8 L272.9 280.8 L273.2 282.8 L273.6 284.8 L274.0 286.8 L274.4 288.8 L274.8 290.8 L275.3 292.7 L275.7 294.7 L276.2 296.7 L276.7 298.6 L277.2 300.5 L277.7 302.5 L278.3 304.4 L278.9 306.3 L279.5 308.2 L280.2 310.0 L280.9 311.9 L281.6 313.7 L282.3 315.5 L283.1 317.3 L283.9 319.1 L284.8 320.8 L285.7 322.6 L286.6 324.3 L287.6 326.0 L288.7 327.6 L289.7 329.2 L290.9 330.8 L292.0 332.4 L293.3 333.9 L294.5 335.5 L295.9 336.9 L297.2 338.4 L298.7 339.8 L300.2 341.2 L301.7 342.5 L303.3 343.8 L304.9 345.0 L306.6 346.2 L308.3 347.3 L310.0 348.3 L311.8 349.3 L313.6 350.3 L315.5 351.1 L317.3 351.9 L319.2 352.6 L321.1 353.2 L323.1 353.7 L325.0 354.1 L327.0 354.4 L329.0 354.6 L331.0 354.8 L333.0 354.8 L335.0 354.7" fill="none" stroke="#9400d3" stroke-width="1.15" stroke-linejoin="round"/>
<path d="M206.6 318.5 L208.3 317.2 L209.9 315.9 L211.4 314.5 L212.9 313.1 L214.3 311.7 L215.7 310.2 L217.0 308.7 L218.2 307.1 L219.4 305.6 L220.6 304.0 L221.6 302.3 L222.7 300.7 L223.6 299.0 L224.6 297.3 L225.5 295.5 L226.3 293.8 L227.1 292.0 L227.9 290.2 L228.6 288.3 L229.3 286.5 L229.9 284.6 L230.5 282.7 L231.1 280.8 L231.6 278.9 L232.1 277.0 L232.6 275.1 L233.1 273.1 L233.5 271.1 L233.9 269.2 L234.3 267.2 L234.7 265.2 L235.0 263.2 L235.3 261.2 L235.6 259.2 L235.9 257.3 L236.2 255.3 L236.5 253.3 L236.7 251.3 L237.0 249.3 L237.2 247.3 L237.4 245.3 L237.7 243.3 L237.9 241.3 L238.1 239.3 L238.2 237.3 L238.4 235.3 L238.6 233.4 L238.8 231.4 L238.9 229.4 L239.1 227.4 L239.2 225.4 L239.3 223.4 L239.5 221.4 L239.6 219.4 L239.7 217.5 L239.8 215.5 L239.9 213.5 L240.1 211.5 L240.2 209.5 L240.3 207.5 L240.3 205.6 L240.4 203.6 L240.5 201.6 L240.6 199.6 L240.7 197.6 L240.8 195.6 L240.9 193.7 L241.0 191.7 L241.0 189.7 L241.1 187.7 L241.2 185.7 L241.3 183.7 L241.4 181.7 L241.4 179.8 L241.5 177.8 L241.6 175.8 L241.7 173.8 L241.8 171.8 L241.9 169.8 L242.0 167.8 L242.1 165.8 L242.2 163.9 L242.3 161.9 L242.4 159.9 L242.6 157.9 L242.7 155.9 L242.8 153.9 L242.9 151.9 L243.1 149.9 L243.2 147.9 L243.4 145.9 L243.6 143.9 L243.7 141.9 L243.9 139.9 L244.1 137.9 L244.3 135.9 L244.5 133.9 L244.7 131.9 L244.9 129.9 L245.1 127.9 L245.3 125.9 L245.5 123.9 L245.7 121.9 L245.9 119.9 L246.1 117.9 L246.3 115.9 L246.5 113.9 L246.7 112.0 L246.9 110.0 L247.0 108.0 L247.2 106.0 L247.3 104.1 L247.4 102.1 L247.5 100.1 L247.6 98.2 L247.6 96.2 L247.6 94.3 L247.7 92.3 L247.7 90.4 L247.7 88.4 L247.7 86.4 L247.7 84.4 L247.8 82.4 L247.8 80.4 L247.8 78.3 L247.9 76.2 L248.0 74.1 L248.1 71.9 L248.2 69.7 L248.3 67.4 L248.5 65.1 L248.7 62.8 L248.9 60.5 L249.2 58.6 L249.5 57.5 L249.7 57.4 L250.0 58.3 L250.2 60.0 L250.4 62.2 L250.6 64.5 L250.7 66.9 L250.8 69.1 L250.9 71.4 L251.0 73.6 L251.1 75.9 L251.1 78.0 L251.2 80.2 L251.3 82.3 L251.3 84.4 L251.4 86.5 L251.4 88.5 L251.5 90.5 L251.5 92.5 L251.6 94.5 L251.7 96.5 L251.7 98.5 L251.8 100.4 L251.9 102.3 L251.9 104.3 L252.0 106.2 L252.1 108.1 L252.2 110.0 L252.3 112.0 L252.4 113.9 L252.5 115.8 L252.6 117.8 L252.8 119.7 L252.9 121.7 L253.0 123.7 L253.2 125.6 L253.3 127.6 L253.4 129.6 L253.6 131.6 L253.7 133.6 L253.9 135.6 L254.0 137.6 L254.1 139.6 L254.2 141.5 L254.4 143.5 L254.5 145.5 L254.6 147.5 L254.7 149.5 L254.8 151.5 L254.9 153.5 L255.0 155.5 L255.1 157.5 L255.2 159.5 L255.3 161.5 L255.4 163.5 L255.4 165.5 L255.5 167.5 L255.6 169.5 L255.7 171.5 L255.8 173.5 L255.8 175.5 L255.9 177.5 L256.0 179.5 L256.0 181.5 L256.1 183.5 L256.2 185.5 L256.3 187.5 L256.3 189.5 L256.4 191.5 L256.5 193.5 L256.6 195.5 L256.6 197.5 L256.7 199.5 L256.8 201.4 L256.9 203.4 L257.0 205.4 L257.1 207.4 L257.1 209.4 L257.2 211.4 L257.3 213.4 L257.4 215.4 L257.5 217.4 L257.7 219.4 L257.8 221.4 L257.9 223.4 L258.0 225.4 L258.1 227.3 L258.3 229.3 L258.4 231.3 L258.6 233.3 L258.7 235.3 L258.9 237.3 L259.0 239.3 L259.2 241.2 L259.4 243.2 L259.6 245.2 L259.7 247.2 L259.9 249.2 L260.2 251.2 L260.4 253.1 L260.6 255.1 L260.8 257.1 L261.1 259.1 L261.3 261.0 L261.6 263.0 L261.8 265.0 L262.1 267.0 L262.4 268.9 L262.7 270.9 L263.0 272.9 L263.3 274.8 L263.7 276.8 L264.0 278.8 L264.4 280.7 L264.7 282.7 L265.1 284.7 L265.5 286.6 L265.9 288.6 L266.3 290.5 L266.7 292.5 L267.2 294.4 L267.6 296.4 L268.1 298.3 L268.6 300.3 L269.1 302.2 L269.6 304.2 L270.1 306.1 L270.7 308.1 L271.2 310.0 L271.8 312.0 L272.4 313.9 L273.0 315.8 L273.6 317.7 L274.3 319.6 L275.0 321.5 L275.7 323.4 L276.5 325.2 L277.3 327.0 L278.1 328.8 L279.0 330.5 L280.0 332.2 L281.0 333.9 L282.0 335.5 L283.1 337.0 L284.2 338.6 L285.4 340.0 L286.7 341.5 L288.0 342.8 L289.4 344.1 L290.9 345.4 L292.4 346.5 L294.0 347.6 L295.7 348.7 L297.5 349.6 L299.3 350.5 L301.2 351.3 L303.2 352.1 L305.2 352.8 L307.2 353.4 L309.3 354.0 L311.4 354.5 L313.4 355.0 L315.5 355.5 L317.6 355.9 L319.7 356.2 L321.8 356.6 L323.8 356.9 L325.8 357.1 L327.8 357.4 L329.7 357.6 L331.5 357.8 L333.3 358.0 L335.0 358.2" fill="none" stroke="#670748" stroke-width="1.15" stroke-linejoin="round"/>
<path d="M206.6 314.0 L208.4 312.9 L210.0 311.7 L211.6 310.5 L213.1 309.2 L214.4 307.8 L215.8 306.4 L217.0 305.0 L218.1 303.5 L219.2 301.9 L220.3 300.3 L221.2 298.7 L222.1 297.0 L222.9 295.2 L223.7 293.5 L224.4 291.7 L225.1 289.9 L225.7 288.0 L226.3 286.1 L226.8 284.2 L227.3 282.3 L227.8 280.3 L228.2 278.4 L228.6 276.4 L229.0 274.4 L229.3 272.4 L229.6 270.4 L229.9 268.3 L230.2 266.3 L230.5 264.3 L230.8 262.2 L231.0 260.2 L231.3 258.2 L231.5 256.1 L231.8 254.1 L232.0 252.1 L232.3 250.1 L232.5 248.0 L232.7 246.0 L232.9 244.0 L233.2 242.0 L233.4 240.0 L233.6 238.0 L233.8 236.0 L234.0 234.0 L234.2 232.0 L234.4 230.0 L234.6 228.0 L234.8 226.1 L235.0 224.1 L235.2 222.1 L235.4 220.1 L235.6 218.1 L235.7 216.1 L235.9 214.2 L236.1 212.2 L236.3 210.2 L236.4 208.2 L236.6 206.3 L236.7 204.3 L236.9 202.3 L237.0 200.4 L237.2 198.4 L237.3 196.4 L237.5 194.4 L237.6 192.5 L237.7 190.5 L237.8 188.5 L238.0 186.6 L238.1 184.6 L238.2 182.6 L238.3 180.7 L238.4 178.7 L238.5 176.7 L238.6 174.7 L238.7 172.8 L238.8 170.8 L238.9 168.8 L239.0 166.9 L239.1 164.9 L239.2 162.9 L239.3 160.9 L239.4 158.9 L239.4 157.0 L239.5 155.0 L239.6 153.0 L239.6 151.0 L239.7 149.0 L239.8 147.0 L239.8 145.0 L239.9 143.0 L239.9 141.0 L240.0 139.0 L240.0 137.0 L240.1 135.0 L240.1 133.0 L240.1 131.0 L240.2 129.0 L240.2 127.0 L240.2 125.0 L240.3 122.9 L240.3 120.9 L240.3 118.9 L240.3 116.9 L240.4 114.8 L240.4 112.8 L240.4 110.8 L240.4 108.8 L240.4 106.7 L240.4 104.7 L240.5 102.7 L240.5 100.7 L240.5 98.6 L240.5 96.6 L240.5 94.6 L240.5 92.6 L240.6 90.6 L240.6 88.5 L240.6 86.5 L240.6 84.5 L240.6 82.5 L240.7 80.5 L240.7 78.5 L240.7 76.5 L240.7 74.5 L240.8 72.5 L240.8 70.5 L240.8 68.5 L240.9 66.6 L240.9 64.6 L241.0 62.6 L241.0 60.6 L241.1 58.7 L241.1 56.7 L241.2 54.8 L241.3 52.8 L241.3 50.9 L241.4 49.0 L241.5 47.0 L241.6 45.1 L241.6 43.2 L241.7 41.3 L241.8 39.4 L241.9 37.5 L242.0 35.6 L242.1 33.7 L242.3 31.8 L242.4 29.8 L242.5 27.8 L242.6 25.8 L242.7 23.7 L242.8 21.6 L242.9 19.4 L243.0 17.2 L243.1 14.8 L243.2 12.4 L243.2 9.9 L243.3 7.3 L243.3 4.7 L243.4 2.3 L243.4 0.2 L243.5 -1.4 L243.5 -2.6 L243.6 -3.0 L243.7 -2.6 L243.7 -1.4 L243.8 0.2 L243.9 2.3 L244.0 4.8 L244.0 7.3 L244.1 9.9 L244.2 12.4 L244.3 14.8 L244.4 17.2 L244.5 19.4 L244.6 21.6 L244.7 23.7 L244.8 25.7 L244.9 27.7 L244.9 29.7 L245.0 31.6 L245.1 33.5 L245.2 35.4 L245.3 37.2 L245.4 39.1 L245.5 41.0 L245.6 42.9 L245.7 44.8 L245.8 46.7 L245.9 48.7 L246.0 50.6 L246.1 52.6 L246.2 54.6 L246.2 56.5 L246.3 58.5 L246.4 60.5 L246.5 62.5 L246.6 64.5 L246.7 66.5 L246.8 68.5 L246.9 70.6 L247.0 72.6 L247.1 74.6 L247.2 76.6 L247.3 78.6 L247.4 80.6 L247.5 82.6 L247.6 84.6 L247.7 86.7 L247.8 88.7 L247.9 90.7 L248.1 92.7 L248.2 94.7 L248.3 96.7 L248.4 98.7 L248.5 100.7 L248.6 102.7 L248.7 104.7 L248.8 106.7 L248.9 108.7 L249.0 110.6 L249.1 112.6 L249.3 114.6 L249.4 116.6 L249.5 118.6 L249.6 120.6 L249.7 122.6 L249.8 124.6 L249.9 126.6 L250.0 128.6 L250.1 130.5 L250.2 132.5 L250.3 134.5 L250.4 136.5 L250.4 138.5 L250.5 140.5 L250.6 142.5 L250.7 144.5 L250.8 146.5 L250.9 148.4 L250.9 150.4 L251.0 152.4 L251.1 154.4 L251.2 156.4 L251.2 158.4 L251.3 160.4 L251.4 162.4 L251.4 164.4 L251.5 166.4 L251.6 168.4 L251.6 170.4 L251.7 172.4 L251.7 174.4 L251.8 176.4 L251.9 178.3 L251.9 180.3 L252.0 182.3 L252.0 184.3 L252.1 186.3 L252.2 188.3 L252.2 190.3 L252.3 192.3 L252.3 194.3 L252.4 196.3 L252.5 198.3 L252.5 200.3 L252.6 202.3 L252.6 204.3 L252.7 206.3 L252.8 208.3 L252.8 210.3 L252.9 212.3 L253.0 214.3 L253.0 216.3 L253.1 218.3 L253.2 220.3 L253.2 222.3 L253.3 224.3 L253.4 226.3 L253.5 228.3 L253.6 230.3 L253.6 232.3 L253.7 234.3 L253.8 236.2 L253.9 238.2 L254.0 240.2 L254.1 242.2 L254.2 244.2 L254.3 246.2 L254.5 248.2 L254.6 250.2 L254.7 252.2 L254.9 254.2 L255.0 256.2 L255.2 258.2 L255.3 260.1 L255.5 262.1 L255.7 264.1 L255.9 266.1 L256.1 268.1 L256.4 270.1 L256.6 272.0 L256.8 274.0 L257.1 276.0 L257.4 278.0 L257.7 279.9 L258.0 281.9 L258.3 283.9 L258.6 285.8 L259.0 287.8 L259.3 289.8 L259.7 291.7 L260.1 293.7 L260.5 295.6 L261.0 297.6 L261.4 299.5 L261.9 301.5 L262.4 303.4 L262.9 305.3 L263.4 307.3 L263.9 309.2 L264.5 311.1 L265.1 313.0 L265.7 314.9 L266.3 316.8 L266.9 318.7 L267.6 320.6 L268.2 322.4 L268.9 324.3 L269.6 326.2 L270.4 328.0 L271.1 329.9 L271.9 331.7 L272.7 333.5 L273.5 335.3 L274.4 337.1 L275.2 338.9 L276.2 340.6 L277.2 342.3 L278.4 343.8 L279.7 345.3 L281.1 346.6 L282.7 347.8 L284.4 348.9 L286.4 349.8" fill="none" stroke="#ff00ff" stroke-width="1.15" stroke-linejoin="round"/>
<circle cx="219.3" cy="322.6" r="2.45" fill="#fff" stroke="#ff0000" stroke-width="1"/>
<circle cx="231.9" cy="312.5" r="2.45" fill="#fff" stroke="#ff0000" stroke-width="1"/>
<circle cx="244.7" cy="302.4" r="2.45" fill="#fff" stroke="#ff0000" stroke-width="1"/>
<circle cx="257.6" cy="280.3" r="2.45" fill="#fff" stroke="#ff0000" stroke-width="1"/>
<circle cx="270.7" cy="255.7" r="2.45" fill="#fff" stroke="#ff0000" stroke-width="1"/>
<circle cx="283.3" cy="251.3" r="2.45" fill="#fff" stroke="#ff0000" stroke-width="1"/>
<circle cx="296.2" cy="279.0" r="2.45" fill="#fff" stroke="#ff0000" stroke-width="1"/>
<circle cx="309.0" cy="304.6" r="2.45" fill="#fff" stroke="#ff0000" stroke-width="1"/>
<circle cx="321.7" cy="323.7" r="2.45" fill="#fff" stroke="#ff0000" stroke-width="1"/>
<circle cx="219.3" cy="319.2" r="2.95" fill="#008b00"/>
<circle cx="231.9" cy="306.8" r="2.95" fill="#008b00"/>
<circle cx="244.8" cy="279.5" r="2.95" fill="#008b00"/>
<circle cx="257.6" cy="241.6" r="2.95" fill="#008b00"/>
<circle cx="270.6" cy="207.6" r="2.95" fill="#008b00"/>
<circle cx="283.2" cy="257.2" r="2.95" fill="#008b00"/>
<circle cx="296.2" cy="306.4" r="2.95" fill="#008b00"/>
<circle cx="309.0" cy="325.3" r="2.95" fill="#008b00"/>
<circle cx="321.7" cy="340.0" r="2.95" fill="#008b00"/>
<rect x="217.25" y="315.15" width="4.1" height="4.1" fill="#fff" stroke="#0000ff" stroke-width="1"/>
<rect x="229.85" y="297.75" width="4.1" height="4.1" fill="#fff" stroke="#0000ff" stroke-width="1"/>
<rect x="242.65" y="254.35" width="4.1" height="4.1" fill="#fff" stroke="#0000ff" stroke-width="1"/>
<rect x="256.45" y="168.05" width="4.1" height="4.1" fill="#fff" stroke="#0000ff" stroke-width="1"/>
<rect x="268.55" y="217.85" width="4.1" height="4.1" fill="#fff" stroke="#0000ff" stroke-width="1"/>
<rect x="281.35" y="286.15" width="4.1" height="4.1" fill="#fff" stroke="#0000ff" stroke-width="1"/>
<rect x="294.15" y="321.25" width="4.1" height="4.1" fill="#fff" stroke="#0000ff" stroke-width="1"/>
<rect x="306.95" y="335.55" width="4.1" height="4.1" fill="#fff" stroke="#0000ff" stroke-width="1"/>
<rect x="319.65" y="345.75" width="4.1" height="4.1" fill="#fff" stroke="#0000ff" stroke-width="1"/>
<rect x="216.6" y="309.9" width="5.4" height="5.4" fill="#9400d3"/>
<rect x="229.2" y="288.0" width="5.4" height="5.4" fill="#9400d3"/>
<rect x="241.9" y="221.6" width="5.4" height="5.4" fill="#9400d3"/>
<rect x="254.9" y="127.3" width="5.4" height="5.4" fill="#9400d3"/>
<rect x="268.0" y="263.1" width="5.4" height="5.4" fill="#9400d3"/>
<rect x="280.6" y="314.7" width="5.4" height="5.4" fill="#9400d3"/>
<rect x="293.5" y="334.8" width="5.4" height="5.4" fill="#9400d3"/>
<rect x="306.3" y="345.5" width="5.4" height="5.4" fill="#9400d3"/>
<rect x="319.0" y="350.0" width="5.4" height="5.4" fill="#9400d3"/>
<path d="M220.6 301.9 L223.1 306.7 L218.1 306.7 Z" fill="#fff" stroke="#670748" stroke-width="0.95"/>
<path d="M232.1 276.7 L234.6 281.5 L229.6 281.5 Z" fill="#fff" stroke="#670748" stroke-width="0.95"/>
<path d="M244.7 137.3 L247.2 142.1 L242.2 142.1 Z" fill="#fff" stroke="#670748" stroke-width="0.95"/>
<path d="M247.4 96.4 L249.9 101.2 L244.9 101.2 Z" fill="#fff" stroke="#670748" stroke-width="0.95"/>
<path d="M250.0 79.5 L252.5 84.3 L247.5 84.3 Z" fill="#fff" stroke="#670748" stroke-width="0.95"/>
<path d="M252.5 112.6 L255.0 117.4 L250.0 117.4 Z" fill="#fff" stroke="#670748" stroke-width="0.95"/>
<path d="M255.1 166.4 L257.6 171.2 L252.6 171.2 Z" fill="#fff" stroke="#670748" stroke-width="0.95"/>
<path d="M257.6 217.9 L260.1 222.7 L255.1 222.7 Z" fill="#fff" stroke="#670748" stroke-width="0.95"/>
<path d="M270.7 305.8 L273.2 310.6 L268.2 310.6 Z" fill="#fff" stroke="#670748" stroke-width="0.95"/>
<path d="M283.5 336.3 L286.0 341.1 L281.0 341.1 Z" fill="#fff" stroke="#670748" stroke-width="0.95"/>
<path d="M296.2 344.8 L298.7 349.6 L293.7 349.6 Z" fill="#fff" stroke="#670748" stroke-width="0.95"/>
<path d="M309.0 351.4 L311.5 356.2 L306.5 356.2 Z" fill="#fff" stroke="#670748" stroke-width="0.95"/>
<path d="M321.7 354.0 L324.2 358.8 L319.2 358.8 Z" fill="#fff" stroke="#670748" stroke-width="0.95"/>
<path d="M210.9 308.6 L213.9 314.2 L207.9 314.2 Z" fill="#ff00ff"/>
<path d="M216.6 303.6 L219.6 309.2 L213.6 309.2 Z" fill="#ff00ff"/>
<path d="M221.8 296.8 L224.8 302.4 L218.8 302.4 Z" fill="#ff00ff"/>
<path d="M226.8 278.1 L229.8 283.7 L223.8 283.7 Z" fill="#ff00ff"/>
<path d="M232.1 258.7 L235.1 264.3 L229.1 264.3 Z" fill="#ff00ff"/>
<path d="M234.6 209.0 L237.6 214.6 L231.6 214.6 Z" fill="#ff00ff"/>
<path d="M237.1 188.4 L240.1 194.0 L234.1 194.0 Z" fill="#ff00ff"/>
<path d="M239.4 128.4 L242.4 134.0 L236.4 134.0 Z" fill="#ff00ff"/>
<path d="M242.0 4.9 L245.0 10.5 L239.0 10.5 Z" fill="#ff00ff"/>
<path d="M245.5 4.9 L248.5 10.5 L242.5 10.5 Z" fill="#ff00ff"/>
<path d="M247.7 45.9 L250.7 51.5 L244.7 51.5 Z" fill="#ff00ff"/>
<path d="M250.3 158.2 L253.3 163.8 L247.3 163.8 Z" fill="#ff00ff"/>
<path d="M252.5 223.7 L255.5 229.3 L249.5 229.3 Z" fill="#ff00ff"/>
<path d="M255.1 240.3 L258.1 245.9 L252.1 245.9 Z" fill="#ff00ff"/>
<path d="M257.5 282.1 L260.5 287.7 L254.5 287.7 Z" fill="#ff00ff"/>
<path d="M262.6 299.9 L265.6 305.5 L259.6 305.5 Z" fill="#ff00ff"/>
<path d="M267.7 316.4 L270.7 322.0 L264.7 322.0 Z" fill="#ff00ff"/>
<path d="M272.7 332.0 L275.7 337.6 L269.7 337.6 Z" fill="#ff00ff"/>
<path d="M277.6 340.2 L280.6 345.8 L274.6 345.8 Z" fill="#ff00ff"/>
<path d="M283.1 344.2 L286.1 349.8 L280.1 349.8 Z" fill="#ff00ff"/>
</g>
<clipPath id="c3"><rect x="360.4" y="5" width="128.6" height="358.5"/></clipPath>
<g clip-path="url(#c3)">
<path d="M360.4 341.5 L362.2 341.1 L364.1 340.8 L366.0 340.4 L367.9 339.9 L369.8 339.5 L371.7 339.1 L373.7 338.6 L375.6 338.1 L377.6 337.6 L379.5 337.1 L381.5 336.5 L383.5 336.0 L385.4 335.3 L387.4 334.7 L389.3 334.0 L391.2 333.3 L393.1 332.6 L395.0 331.8 L396.9 331.0 L398.7 330.2 L400.5 329.3 L402.3 328.4 L404.0 327.4 L405.8 326.4 L407.4 325.4 L409.0 324.3 L410.6 323.1 L412.2 322.0 L413.7 320.7 L415.2 319.5 L416.6 318.2 L418.1 316.9 L419.5 315.6 L420.9 314.2 L422.2 312.8 L423.6 311.4 L425.0 310.0 L426.3 308.6 L427.7 307.1 L429.0 305.7 L430.4 304.2 L431.7 302.7 L433.1 301.3 L434.5 299.8 L435.8 298.4 L437.3 296.9 L438.7 295.5 L440.1 294.0 L441.6 292.6 L443.1 291.2 L444.7 289.9 L446.3 288.5 L447.9 287.3 L449.5 286.0 L451.1 284.8 L452.8 283.7 L454.5 282.7 L456.2 281.8 L458.0 281.0 L459.7 280.3 L461.5 279.7 L463.3 279.2 L465.1 278.9 L467.0 278.7 L468.8 278.7 L470.7 278.9 L472.5 279.2 L474.4 279.7 L476.3 280.4 L478.1 281.3 L479.9 282.3 L481.7 283.4 L483.4 284.7 L484.9 286.0 L486.4 287.4 L487.8 288.9 L489.0 290.5" fill="none" stroke="#ff0000" stroke-width="1.15" stroke-linejoin="round"/>
<path d="M360.4 337.0 L362.2 336.3 L364.1 335.6 L366.0 335.0 L367.8 334.3 L369.7 333.6 L371.6 332.9 L373.5 332.2 L375.4 331.5 L377.2 330.7 L379.1 330.0 L380.9 329.1 L382.7 328.3 L384.5 327.4 L386.2 326.5 L387.9 325.5 L389.6 324.4 L391.2 323.3 L392.8 322.1 L394.3 320.9 L395.7 319.5 L397.1 318.1 L398.4 316.7 L399.7 315.1 L400.9 313.6 L402.1 312.0 L403.3 310.4 L404.6 308.8 L405.8 307.2 L407.0 305.6 L408.3 304.0 L409.5 302.5 L410.8 300.9 L412.1 299.4 L413.4 297.9 L414.7 296.4 L415.9 294.9 L417.1 293.3 L418.2 291.7 L419.2 290.1 L420.1 288.4 L421.0 286.7 L421.9 284.9 L422.7 283.1 L423.6 281.4 L424.4 279.5 L425.2 277.7 L426.1 275.9 L427.0 274.0 L427.9 272.2 L428.9 270.3 L430.0 268.5 L431.2 266.6 L432.5 264.8 L433.8 263.1 L435.3 261.5 L436.7 260.1 L438.3 258.9 L439.9 257.8 L441.6 257.1 L443.3 256.6 L445.0 256.5 L446.7 256.6 L448.4 257.0 L450.1 257.7 L451.7 258.6 L453.3 259.6 L454.7 260.9 L456.1 262.3 L457.3 263.9 L458.5 265.6 L459.6 267.4 L460.7 269.3 L461.7 271.2 L462.7 273.2 L463.7 275.1 L464.6 277.1 L465.6 279.0 L466.5 280.9 L467.4 282.8 L468.4 284.6 L469.3 286.3 L470.2 288.1 L471.2 289.8 L472.2 291.4 L473.2 293.1 L474.2 294.7 L475.2 296.3 L476.3 297.8 L477.4 299.4 L478.5 300.9 L479.7 302.4 L480.9 303.9 L482.1 305.5 L483.4 307.0 L484.7 308.5 L486.1 310.0 L487.5 311.5 L489.0 313.0" fill="none" stroke="#008b00" stroke-width="1.15" stroke-linejoin="round"/>
<path d="M360.4 334.8 L362.3 334.4 L364.3 334.0 L366.2 333.6 L368.2 333.0 L370.1 332.4 L372.0 331.8 L373.9 331.0 L375.8 330.2 L377.6 329.3 L379.3 328.4 L381.0 327.4 L382.6 326.2 L384.2 325.1 L385.6 323.8 L387.0 322.4 L388.3 321.0 L389.4 319.4 L390.5 317.8 L391.5 316.1 L392.4 314.4 L393.3 312.6 L394.2 310.8 L395.2 309.1 L396.4 307.4 L397.6 305.8 L398.9 304.2 L400.3 302.7 L401.7 301.2 L403.1 299.7 L404.5 298.2 L405.8 296.6 L407.0 295.1 L408.1 293.4 L409.1 291.8 L410.1 290.1 L410.9 288.4 L411.7 286.6 L412.4 284.8 L413.0 283.0 L413.6 281.2 L414.2 279.3 L414.7 277.4 L415.2 275.5 L415.6 273.6 L416.1 271.7 L416.5 269.7 L417.0 267.8 L417.4 265.8 L417.9 263.9 L418.4 261.9 L418.9 260.0 L419.5 258.0 L420.1 256.1 L420.8 254.1 L421.5 252.2 L422.3 250.3 L423.2 248.4 L424.2 246.6 L425.3 244.7 L426.5 242.9 L427.8 241.2 L429.1 239.7 L430.5 238.3 L432.0 237.3 L433.5 236.6 L435.0 236.3 L436.6 236.5 L438.1 237.2 L439.7 238.2 L441.1 239.6 L442.6 241.2 L443.9 243.0 L445.1 244.9 L446.2 246.9 L447.1 248.9 L447.9 250.9 L448.5 252.8 L449.1 254.7 L449.6 256.6 L450.2 258.5 L450.7 260.3 L451.3 262.1 L451.9 264.0 L452.5 265.8 L453.1 267.6 L453.8 269.5 L454.4 271.4 L455.0 273.3 L455.6 275.2 L456.3 277.1 L456.9 279.0 L457.6 280.9 L458.3 282.8 L459.0 284.6" fill="none" stroke="#0000ff" stroke-width="1.15" stroke-linejoin="round"/>
<path d="M360.4 333.0 L362.5 332.5 L364.6 332.0 L366.6 331.3 L368.6 330.6 L370.4 329.8 L372.2 328.9 L374.0 327.9 L375.7 326.9 L377.3 325.8 L378.8 324.6 L380.3 323.4 L381.7 322.1 L383.1 320.7 L384.4 319.3 L385.6 317.9 L386.8 316.4 L388.0 314.8 L389.1 313.2 L390.1 311.5 L391.1 309.9 L392.1 308.1 L393.0 306.4 L393.8 304.6 L394.7 302.8 L395.4 300.9 L396.2 299.1 L396.9 297.2 L397.6 295.3 L398.2 293.4 L398.8 291.5 L399.4 289.5 L399.9 287.6 L400.4 285.6 L400.9 283.7 L401.4 281.8 L401.9 279.8 L402.3 277.9 L402.7 275.9 L403.1 274.0 L403.5 272.0 L403.9 270.1 L404.3 268.1 L404.7 266.2 L405.1 264.2 L405.5 262.3 L406.0 260.3 L406.4 258.4 L406.9 256.4 L407.3 254.5 L407.8 252.5 L408.4 250.6 L408.9 248.6 L409.5 246.7 L410.0 244.8 L410.6 242.9 L411.2 241.0 L411.7 239.1 L412.3 237.3 L412.9 235.5 L413.4 233.6 L414.0 231.8 L414.5 230.0 L415.0 228.1 L415.6 226.1 L416.1 224.1 L416.7 222.0 L417.3 219.9 L417.9 217.8 L418.6 215.6 L419.4 213.5 L420.2 211.4 L421.2 209.6 L422.3 208.2 L423.5 207.6 L424.7 207.8 L425.9 208.8 L427.1 210.4 L428.1 212.4 L429.0 214.6 L429.7 216.9 L430.4 219.3 L430.9 221.6 L431.4 223.7 L431.8 225.8 L432.2 227.8 L432.5 229.7 L432.8 231.6 L433.1 233.5 L433.3 235.4 L433.6 237.2 L433.9 239.1 L434.3 241.0 L434.6 242.8 L435.0 244.7 L435.4 246.6 L435.8 248.5 L436.2 250.4 L436.7 252.3 L437.1 254.3 L437.6 256.2 L438.1 258.1 L438.6 260.0 L439.1 262.0 L439.6 263.9 L440.1 265.8 L440.7 267.8 L441.2 269.7 L441.8 271.6 L442.3 273.6 L442.9 275.5 L443.5 277.4 L444.1 279.4 L444.7 281.3 L445.2 283.3 L445.8 285.2 L446.4 287.1 L447.0 289.0 L447.6 291.0 L448.2 292.9 L448.8 294.8 L449.4 296.7 L450.0 298.6 L450.6 300.5 L451.2 302.4 L451.8 304.3 L452.4 306.1 L453.0 308.0 L453.5 309.8 L454.1 311.7" fill="none" stroke="#9400d3" stroke-width="1.15" stroke-linejoin="round"/>
<path d="M360.4 328.0 L362.2 326.9 L363.9 325.8 L365.5 324.6 L367.1 323.3 L368.6 322.0 L370.1 320.6 L371.4 319.2 L372.8 317.7 L374.0 316.2 L375.2 314.7 L376.4 313.1 L377.5 311.4 L378.5 309.8 L379.5 308.1 L380.5 306.3 L381.4 304.6 L382.3 302.8 L383.1 301.0 L383.9 299.1 L384.7 297.3 L385.4 295.4 L386.1 293.6 L386.8 291.7 L387.4 289.8 L388.0 287.9 L388.6 286.0 L389.2 284.0 L389.7 282.1 L390.2 280.1 L390.7 278.2 L391.2 276.2 L391.6 274.3 L392.1 272.3 L392.5 270.4 L392.9 268.4 L393.3 266.4 L393.7 264.4 L394.1 262.5 L394.4 260.5 L394.8 258.5 L395.2 256.6 L395.5 254.6 L395.9 252.6 L396.2 250.7 L396.5 248.7 L396.9 246.8 L397.2 244.8 L397.6 242.9 L397.9 241.0 L398.2 239.0 L398.6 237.1 L398.9 235.1 L399.2 233.2 L399.5 231.3 L399.9 229.3 L400.2 227.4 L400.5 225.4 L400.8 223.5 L401.1 221.5 L401.4 219.5 L401.7 217.6 L402.0 215.6 L402.3 213.6 L402.6 211.6 L402.9 209.6 L403.2 207.6 L403.4 205.6 L403.7 203.6 L404.0 201.6 L404.2 199.5 L404.5 197.5 L404.8 195.4 L405.0 193.4 L405.3 191.3 L405.5 189.2 L405.8 187.1 L406.1 185.1 L406.5 183.1 L406.9 181.0 L407.3 179.0 L407.7 177.1 L408.2 175.1 L408.8 173.2 L409.4 171.4 L410.0 169.6 L410.8 167.8 L411.6 166.4 L412.3 166.2 L412.9 167.0 L413.3 168.3 L413.6 170.2 L413.7 172.5 L413.9 175.1 L413.9 177.9 L414.0 180.7 L414.0 183.5 L414.1 186.0 L414.2 188.4 L414.3 190.6 L414.5 192.7 L414.8 194.7 L415.0 196.6 L415.3 198.4 L415.6 200.3 L415.9 202.1 L416.2 204.0 L416.5 205.9 L416.9 207.8 L417.2 209.7 L417.6 211.6 L418.0 213.5 L418.4 215.4 L418.8 217.3 L419.2 219.3 L419.6 221.2 L420.0 223.1 L420.4 225.1 L420.8 227.0 L421.2 229.0 L421.6 231.0 L422.0 233.0 L422.5 234.9 L422.9 236.9 L423.3 238.9 L423.6 240.9 L424.0 242.9 L424.4 244.9 L424.8 246.8 L425.1 248.8 L425.5 250.8 L425.8 252.8 L426.2 254.8 L426.5 256.8 L426.9 258.8 L427.2 260.8 L427.5 262.8 L427.9 264.8 L428.2 266.8 L428.6 268.7 L429.0 270.7 L429.3 272.7 L429.7 274.6 L430.1 276.6 L430.5 278.6 L431.0 280.5 L431.4 282.5 L431.9 284.4 L432.3 286.3 L432.8 288.2 L433.3 290.1 L433.9 292.0 L434.4 293.9 L435.0 295.8 L435.6 297.7 L436.3 299.5 L436.9 301.4 L437.6 303.2 L438.4 305.0 L439.1 306.8 L439.9 308.6 L440.7 310.4 L441.6 312.2 L442.5 313.9 L443.4 315.7 L444.4 317.4 L445.5 319.1 L446.5 320.8 L447.6 322.4 L448.8 324.1 L450.0 325.7 L451.2 327.3 L452.6 328.9 L453.9 330.5" fill="none" stroke="#670748" stroke-width="1.15" stroke-linejoin="round"/>
<path d="M360.4 326.0 L362.0 324.7 L363.5 323.4 L365.0 322.0 L366.3 320.6 L367.6 319.0 L368.8 317.5 L370.0 315.9 L371.1 314.2 L372.1 312.6 L373.0 310.8 L373.9 309.1 L374.8 307.3 L375.6 305.4 L376.3 303.6 L377.0 301.7 L377.7 299.8 L378.3 297.9 L378.9 295.9 L379.5 294.0 L380.0 292.0 L380.6 290.1 L381.0 288.1 L381.5 286.1 L382.0 284.2 L382.4 282.2 L382.9 280.2 L383.3 278.3 L383.7 276.3 L384.2 274.4 L384.6 272.4 L385.0 270.5 L385.3 268.6 L385.7 266.6 L386.1 264.7 L386.5 262.8 L386.8 260.8 L387.2 258.9 L387.5 257.0 L387.8 255.0 L388.1 253.1 L388.4 251.2 L388.7 249.2 L389.0 247.3 L389.3 245.3 L389.6 243.4 L389.9 241.4 L390.1 239.5 L390.4 237.5 L390.7 235.5 L390.9 233.6 L391.1 231.6 L391.4 229.6 L391.6 227.6 L391.8 225.6 L392.0 223.6 L392.2 221.5 L392.4 219.5 L392.6 217.4 L392.8 215.4 L392.9 213.3 L393.1 211.3 L393.3 209.2 L393.5 207.2 L393.6 205.1 L393.8 203.1 L393.9 201.0 L394.1 198.9 L394.2 196.9 L394.3 194.9 L394.5 192.8 L394.6 190.8 L394.7 188.8 L394.8 186.7 L395.0 184.7 L395.1 182.7 L395.2 180.7 L395.3 178.8 L395.4 176.8 L395.5 174.9 L395.7 172.9 L395.8 171.0 L395.9 169.1 L396.0 167.3 L396.1 165.4 L396.2 163.6 L396.3 161.8 L396.4 160.0 L396.5 158.2 L396.6 156.4 L396.7 154.6 L396.9 152.8 L397.0 150.8 L397.1 148.8 L397.3 146.6 L397.4 144.3 L397.6 141.7 L397.8 139.0 L398.0 136.2 L398.2 133.3 L398.5 130.8 L398.8 128.7 L399.1 127.4 L399.5 127.0 L399.9 127.8 L400.4 129.4 L400.8 131.6 L401.2 133.8 L401.6 136.0 L401.9 138.2 L402.2 140.4 L402.4 142.5 L402.6 144.6 L402.8 146.6 L403.0 148.6 L403.2 150.6 L403.3 152.5 L403.5 154.4 L403.6 156.3 L403.8 158.2 L404.0 160.1 L404.3 162.1 L404.5 164.0 L404.8 165.9 L405.1 167.8 L405.5 169.8 L405.8 171.7 L406.2 173.7 L406.5 175.6 L406.9 177.6 L407.3 179.6 L407.6 181.5 L408.0 183.5 L408.4 185.5 L408.8 187.5 L409.1 189.5 L409.5 191.5 L409.8 193.4 L410.2 195.4 L410.5 197.4 L410.7 199.4 L411.0 201.4 L411.2 203.4 L411.5 205.4 L411.7 207.4 L411.8 209.4 L412.0 211.4 L412.2 213.4 L412.3 215.4 L412.4 217.4 L412.5 219.4 L412.6 221.4 L412.8 223.4 L412.9 225.4 L413.0 227.4 L413.1 229.4 L413.2 231.4 L413.3 233.4 L413.4 235.4 L413.5 237.4 L413.7 239.4 L413.8 241.3 L414.0 243.3 L414.1 245.3 L414.3 247.3 L414.5 249.3 L414.8 251.2 L415.0 253.2 L415.3 255.2 L415.6 257.1 L415.9 259.1 L416.2 261.1 L416.6 263.0 L416.9 265.0 L417.3 266.9 L417.7 268.8 L418.2 270.8 L418.6 272.7 L419.1 274.6 L419.6 276.5 L420.1 278.4 L420.6 280.3 L421.2 282.2 L421.7 284.1 L422.3 286.0 L422.9 287.9 L423.5 289.8 L424.1 291.6 L424.8 293.5 L425.5 295.3 L426.1 297.2 L426.8 299.0 L427.5 300.9 L428.2 302.7 L428.9 304.6 L429.7 306.4 L430.4 308.2 L431.1 310.1 L431.8 312.0 L432.5 313.8 L433.2 315.7 L433.9 317.6 L434.6 319.5 L435.3 321.4 L435.9 323.3 L436.6 325.2 L437.3 327.2 L438.0 329.1 L438.7 330.9 L439.5 332.7 L440.4 334.4 L441.4 336.0 L442.5 337.4 L443.8 338.8 L445.3 339.9 L446.9 340.9 L448.8 341.7 L450.9 342.2 L453.2 342.5" fill="none" stroke="#ff00ff" stroke-width="1.15" stroke-linejoin="round"/>
<circle cx="372.1" cy="339.6" r="2.45" fill="#fff" stroke="#ff0000" stroke-width="1"/>
<circle cx="383.7" cy="335.8" r="2.45" fill="#fff" stroke="#ff0000" stroke-width="1"/>
<circle cx="395.4" cy="331.0" r="2.45" fill="#fff" stroke="#ff0000" stroke-width="1"/>
<circle cx="406.9" cy="325.7" r="2.45" fill="#fff" stroke="#ff0000" stroke-width="1"/>
<circle cx="418.6" cy="316.0" r="2.45" fill="#fff" stroke="#ff0000" stroke-width="1"/>
<circle cx="430.2" cy="307.0" r="2.45" fill="#fff" stroke="#ff0000" stroke-width="1"/>
<circle cx="441.8" cy="290.5" r="2.45" fill="#fff" stroke="#ff0000" stroke-width="1"/>
<circle cx="453.7" cy="281.7" r="2.45" fill="#fff" stroke="#ff0000" stroke-width="1"/>
<circle cx="465.5" cy="279.0" r="2.45" fill="#fff" stroke="#ff0000" stroke-width="1"/>
<circle cx="477.4" cy="280.0" r="2.45" fill="#fff" stroke="#ff0000" stroke-width="1"/>
<circle cx="372.1" cy="332.7" r="2.95" fill="#008b00"/>
<circle cx="383.7" cy="327.6" r="2.95" fill="#008b00"/>
<circle cx="395.4" cy="320.5" r="2.95" fill="#008b00"/>
<circle cx="407.2" cy="304.4" r="2.95" fill="#008b00"/>
<circle cx="418.5" cy="291.5" r="2.95" fill="#008b00"/>
<circle cx="430.2" cy="268.9" r="2.95" fill="#008b00"/>
<circle cx="441.8" cy="257.3" r="2.95" fill="#008b00"/>
<circle cx="453.7" cy="260.2" r="2.95" fill="#008b00"/>
<circle cx="465.5" cy="278.1" r="2.95" fill="#008b00"/>
<circle cx="477.3" cy="299.3" r="2.95" fill="#008b00"/>
<rect x="370.05" y="329.35" width="4.1" height="4.1" fill="#fff" stroke="#0000ff" stroke-width="1"/>
<rect x="381.65" y="324.15" width="4.1" height="4.1" fill="#fff" stroke="#0000ff" stroke-width="1"/>
<rect x="393.35" y="306.35" width="4.1" height="4.1" fill="#fff" stroke="#0000ff" stroke-width="1"/>
<rect x="404.95" y="293.65" width="4.1" height="4.1" fill="#fff" stroke="#0000ff" stroke-width="1"/>
<rect x="416.55" y="261.75" width="4.1" height="4.1" fill="#fff" stroke="#0000ff" stroke-width="1"/>
<rect x="428.25" y="236.25" width="4.1" height="4.1" fill="#fff" stroke="#0000ff" stroke-width="1"/>
<rect x="439.75" y="238.15" width="4.1" height="4.1" fill="#fff" stroke="#0000ff" stroke-width="1"/>
<rect x="451.65" y="266.65" width="4.1" height="4.1" fill="#fff" stroke="#0000ff" stroke-width="1"/>
<rect x="363.5" y="326.6" width="5.4" height="5.4" fill="#9400d3"/>
<rect x="369.4" y="323.5" width="5.4" height="5.4" fill="#9400d3"/>
<rect x="375.0" y="317.2" width="5.4" height="5.4" fill="#9400d3"/>
<rect x="380.9" y="314.6" width="5.4" height="5.4" fill="#9400d3"/>
<rect x="386.7" y="309.9" width="5.4" height="5.4" fill="#9400d3"/>
<rect x="392.6" y="284.6" width="5.4" height="5.4" fill="#9400d3"/>
<rect x="398.5" y="269.3" width="5.4" height="5.4" fill="#9400d3"/>
<rect x="404.3" y="247.8" width="5.4" height="5.4" fill="#9400d3"/>
<rect x="409.9" y="228.7" width="5.4" height="5.4" fill="#9400d3"/>
<rect x="415.8" y="218.6" width="5.4" height="5.4" fill="#9400d3"/>
<rect x="421.6" y="211.4" width="5.4" height="5.4" fill="#9400d3"/>
<rect x="427.6" y="216.5" width="5.4" height="5.4" fill="#9400d3"/>
<rect x="433.6" y="250.0" width="5.4" height="5.4" fill="#9400d3"/>
<rect x="439.1" y="275.3" width="5.4" height="5.4" fill="#9400d3"/>
<rect x="445.0" y="287.4" width="5.4" height="5.4" fill="#9400d3"/>
<rect x="451.0" y="308.8" width="5.4" height="5.4" fill="#9400d3"/>
<path d="M363.1 325.7 L365.6 330.5 L360.6 330.5 Z" fill="#fff" stroke="#670748" stroke-width="0.95"/>
<path d="M366.0 321.3 L368.5 326.1 L363.5 326.1 Z" fill="#fff" stroke="#670748" stroke-width="0.95"/>
<path d="M369.1 318.0 L371.6 322.8 L366.6 322.8 Z" fill="#fff" stroke="#670748" stroke-width="0.95"/>
<path d="M372.1 314.6 L374.6 319.4 L369.6 319.4 Z" fill="#fff" stroke="#670748" stroke-width="0.95"/>
<path d="M374.8 312.5 L377.3 317.3 L372.3 317.3 Z" fill="#fff" stroke="#670748" stroke-width="0.95"/>
<path d="M377.7 308.6 L380.2 313.4 L375.2 313.4 Z" fill="#fff" stroke="#670748" stroke-width="0.95"/>
<path d="M380.6 305.2 L383.1 310.0 L378.1 310.0 Z" fill="#fff" stroke="#670748" stroke-width="0.95"/>
<path d="M383.6 291.0 L386.1 295.8 L381.1 295.8 Z" fill="#fff" stroke="#670748" stroke-width="0.95"/>
<path d="M386.5 286.5 L389.0 291.3 L384.0 291.3 Z" fill="#fff" stroke="#670748" stroke-width="0.95"/>
<path d="M389.4 282.6 L391.9 287.4 L386.9 287.4 Z" fill="#fff" stroke="#670748" stroke-width="0.95"/>
<path d="M392.4 263.0 L394.9 267.8 L389.9 267.8 Z" fill="#fff" stroke="#670748" stroke-width="0.95"/>
<path d="M395.3 254.2 L397.8 259.0 L392.8 259.0 Z" fill="#fff" stroke="#670748" stroke-width="0.95"/>
<path d="M398.4 243.8 L400.9 248.6 L395.9 248.6 Z" fill="#fff" stroke="#670748" stroke-width="0.95"/>
<path d="M401.3 215.1 L403.8 219.9 L398.8 219.9 Z" fill="#fff" stroke="#670748" stroke-width="0.95"/>
<path d="M404.2 194.9 L406.7 199.7 L401.7 199.7 Z" fill="#fff" stroke="#670748" stroke-width="0.95"/>
<path d="M406.5 181.8 L409.0 186.6 L404.0 186.6 Z" fill="#fff" stroke="#670748" stroke-width="0.95"/>
<path d="M410.2 172.5 L412.7 177.3 L407.7 177.3 Z" fill="#fff" stroke="#670748" stroke-width="0.95"/>
<path d="M413.3 161.7 L415.8 166.5 L410.8 166.5 Z" fill="#fff" stroke="#670748" stroke-width="0.95"/>
<path d="M415.8 196.3 L418.3 201.1 L413.3 201.1 Z" fill="#fff" stroke="#670748" stroke-width="0.95"/>
<path d="M418.5 214.3 L421.0 219.1 L416.0 219.1 Z" fill="#fff" stroke="#670748" stroke-width="0.95"/>
<path d="M424.3 240.7 L426.8 245.5 L421.8 245.5 Z" fill="#fff" stroke="#670748" stroke-width="0.95"/>
<path d="M430.3 276.9 L432.8 281.7 L427.8 281.7 Z" fill="#fff" stroke="#670748" stroke-width="0.95"/>
<path d="M436.1 295.4 L438.6 300.2 L433.6 300.2 Z" fill="#fff" stroke="#670748" stroke-width="0.95"/>
<path d="M441.8 311.3 L444.3 316.1 L439.3 316.1 Z" fill="#fff" stroke="#670748" stroke-width="0.95"/>
<path d="M447.7 318.6 L450.2 323.4 L445.2 323.4 Z" fill="#fff" stroke="#670748" stroke-width="0.95"/>
<path d="M453.7 327.4 L456.2 332.2 L451.2 332.2 Z" fill="#fff" stroke="#670748" stroke-width="0.95"/>
<path d="M363.5 320.4 L366.5 326.0 L360.5 326.0 Z" fill="#ff00ff"/>
<path d="M368.0 317.6 L371.0 323.2 L365.0 323.2 Z" fill="#ff00ff"/>
<path d="M372.4 309.4 L375.4 315.0 L369.4 315.0 Z" fill="#ff00ff"/>
<path d="M376.8 299.5 L379.8 305.1 L373.8 305.1 Z" fill="#ff00ff"/>
<path d="M382.5 270.4 L385.5 276.0 L379.5 276.0 Z" fill="#ff00ff"/>
<path d="M386.5 263.0 L389.5 268.6 L383.5 268.6 Z" fill="#ff00ff"/>
<path d="M389.6 233.4 L392.6 239.0 L386.6 239.0 Z" fill="#ff00ff"/>
<path d="M392.5 219.1 L395.5 224.7 L389.5 224.7 Z" fill="#ff00ff"/>
<path d="M395.0 206.9 L398.0 212.5 L392.0 212.5 Z" fill="#ff00ff"/>
<path d="M398.1 129.6 L401.1 135.2 L395.1 135.2 Z" fill="#ff00ff"/>
<path d="M404.0 138.3 L407.0 143.9 L401.0 143.9 Z" fill="#ff00ff"/>
<path d="M401.1 152.0 L404.1 157.6 L398.1 157.6 Z" fill="#ff00ff"/>
<path d="M407.0 150.6 L410.0 156.2 L404.0 156.2 Z" fill="#ff00ff"/>
<path d="M409.9 184.9 L412.9 190.5 L406.9 190.5 Z" fill="#ff00ff"/>
<path d="M412.6 213.4 L415.6 219.0 L409.6 219.0 Z" fill="#ff00ff"/>
<path d="M415.9 254.4 L418.9 260.0 L412.9 260.0 Z" fill="#ff00ff"/>
<path d="M418.6 275.8 L421.6 281.4 L415.6 281.4 Z" fill="#ff00ff"/>
<path d="M424.5 286.5 L427.5 292.1 L421.5 292.1 Z" fill="#ff00ff"/>
<path d="M430.4 308.9 L433.4 314.5 L427.4 314.5 Z" fill="#ff00ff"/>
<path d="M436.1 319.9 L439.1 325.5 L433.1 325.5 Z" fill="#ff00ff"/>
<path d="M441.8 335.4 L444.8 341.0 L438.8 341.0 Z" fill="#ff00ff"/>
<path d="M447.7 337.4 L450.7 343.0 L444.7 343.0 Z" fill="#ff00ff"/>
<path d="M453.2 338.9 L456.2 344.5 L450.2 344.5 Z" fill="#ff00ff"/>
</g>
<g stroke="#000" stroke-width="1" fill="none">
<path d="M56.04 363.5 v-9.8 M56.04 5.0 v9.8 M97.73 363.5 v-9.8 M97.73 5.0 v9.8 M139.41 363.5 v-9.8 M139.41 5.0 v9.8 M76.89 363.5 v-4.7 M76.89 5.0 v4.7 M118.57 363.5 v-4.7 M118.57 5.0 v4.7 M160.26 363.5 v-4.7 M160.26 5.0 v4.7 M52.5 261.07 h9.8 M181.1 261.07 h-9.8 M52.5 158.64 h9.8 M181.1 158.64 h-9.8 M52.5 56.21 h9.8 M181.1 56.21 h-9.8 M52.5 312.29 h4.7 M181.1 312.29 h-4.7 M52.5 209.86 h4.7 M181.1 209.86 h-4.7 M52.5 107.43 h4.7 M181.1 107.43 h-4.7"/>
</g>
<rect x="52.5" y="5.0" width="128.60" height="358.50" fill="none" stroke="#000" stroke-width="1.65"/>
<g font-size="11.6px">
<text x="56.04" y="377" text-anchor="middle">1.09</text>
<text x="97.73" y="377" text-anchor="middle">1.10</text>
<text x="139.41" y="377" text-anchor="middle">1.11</text>
<text x="47.60" y="367.60" text-anchor="end">0</text>
<text x="47.60" y="265.17" text-anchor="end">20</text>
<text x="47.60" y="162.74" text-anchor="end">40</text>
<text x="47.60" y="60.31" text-anchor="end">60</text>
</g>
<g stroke="#000" stroke-width="1" fill="none">
<path d="M219.44 363.5 v-9.8 M219.44 5.0 v9.8 M270.80 363.5 v-9.8 M270.80 5.0 v9.8 M322.16 363.5 v-9.8 M322.16 5.0 v9.8 M245.12 363.5 v-4.7 M245.12 5.0 v4.7 M296.48 363.5 v-4.7 M296.48 5.0 v4.7 M206.6 273.88 h9.8 M335.0 273.88 h-9.8 M206.6 184.25 h9.8 M335.0 184.25 h-9.8 M206.6 94.62 h9.8 M335.0 94.62 h-9.8 M206.6 318.69 h4.7 M335.0 318.69 h-4.7 M206.6 229.06 h4.7 M335.0 229.06 h-4.7 M206.6 139.44 h4.7 M335.0 139.44 h-4.7 M206.6 49.81 h4.7 M335.0 49.81 h-4.7"/>
</g>
<rect x="206.6" y="5.0" width="128.40" height="358.50" fill="none" stroke="#000" stroke-width="1.65"/>
<g font-size="11.6px">
<text x="219.44" y="377" text-anchor="middle">0.96</text>
<text x="270.80" y="377" text-anchor="middle">1.00</text>
<text x="322.16" y="377" text-anchor="middle">1.04</text>
<text x="201.70" y="367.60" text-anchor="end">0</text>
<text x="201.70" y="277.98" text-anchor="end">5</text>
<text x="201.70" y="188.35" text-anchor="end">10</text>
<text x="201.70" y="98.72" text-anchor="end">15</text>
<text x="201.70" y="9.10" text-anchor="end">20</text>
</g>
<g stroke="#000" stroke-width="1" fill="none">
<path d="M407.16 363.5 v-9.8 M407.16 5.0 v9.8 M453.93 363.5 v-9.8 M453.93 5.0 v9.8 M383.78 363.5 v-4.7 M383.78 5.0 v4.7 M430.55 363.5 v-4.7 M430.55 5.0 v4.7 M477.31 363.5 v-4.7 M477.31 5.0 v4.7 M360.4 273.88 h9.8 M489.0 273.88 h-9.8 M360.4 184.25 h9.8 M489.0 184.25 h-9.8 M360.4 94.62 h9.8 M489.0 94.62 h-9.8 M360.4 318.69 h4.7 M489.0 318.69 h-4.7 M360.4 229.06 h4.7 M489.0 229.06 h-4.7 M360.4 139.44 h4.7 M489.0 139.44 h-4.7 M360.4 49.81 h4.7 M489.0 49.81 h-4.7"/>
</g>
<rect x="360.4" y="5.0" width="128.60" height="358.50" fill="none" stroke="#000" stroke-width="1.65"/>
<g font-size="11.6px">
<text x="407.16" y="377" text-anchor="middle">0.56</text>
<text x="453.93" y="377" text-anchor="middle">0.60</text>
<text x="355.50" y="367.60" text-anchor="end">0</text>
<text x="355.50" y="277.98" text-anchor="end">5</text>
<text x="355.50" y="188.35" text-anchor="end">10</text>
<text x="355.50" y="98.72" text-anchor="end">15</text>
<text x="355.50" y="9.10" text-anchor="end">20</text>
</g>
<g font-size="17px" fill="#0000ff">
<text x="59.3" y="76.7" style="fill:#0000ff">H = 16</text>
<text x="277.3" y="75.1" style="fill:#0000ff">H = 4</text>
<text x="434.9" y="146.7" style="fill:#0000ff">H = 1</text>
</g>
<rect x="416.7" y="30.2" width="57.9" height="84.5" fill="#fff" stroke="#000" stroke-width="0.9"/>
<circle cx="432.4" cy="40.0" r="2.45" fill="#fff" stroke="#ff0000" stroke-width="1"/>
<text x="461.8" y="43.6" font-size="11.6px" text-anchor="middle">20</text>
<circle cx="432.4" cy="53.0" r="2.95" fill="#008b00"/>
<text x="461.8" y="56.6" font-size="11.6px" text-anchor="middle">30</text>
<rect x="430.35" y="64.01" width="4.1" height="4.1" fill="#fff" stroke="#0000ff" stroke-width="1"/>
<text x="461.8" y="69.7" font-size="11.6px" text-anchor="middle">40</text>
<rect x="429.7" y="76.4" width="5.4" height="5.4" fill="#9400d3"/>
<text x="461.8" y="82.7" font-size="11.6px" text-anchor="middle">60</text>
<path d="M432.4 89.4 L434.9 94.2 L429.9 94.2 Z" fill="#fff" stroke="#670748" stroke-width="0.95"/>
<text x="461.8" y="95.7" font-size="11.6px" text-anchor="middle">100</text>
<path d="M432.4 102.0 L435.4 107.6 L429.4 107.6 Z" fill="#ff00ff"/>
<text x="461.8" y="108.7" font-size="11.6px" text-anchor="middle">160</text>
<text x="260" y="406.5" font-size="22.4px">T</text>
<text x="274.6" y="393.4" font-size="15px">*</text>
<g transform="translate(21.2 0) rotate(-90)">
<text x="-234.70" y="0.00" font-size="28px">|</text>
<text x="-229.10" y="0.00" font-size="27px">d</text>
<text x="-216.10" y="0.00" font-size="27px">[</text>
<text x="-206.80" y="0.00" font-size="28px">λ</text>
<text x="-192.80" y="10.90" font-size="17px">+</text>
<text x="-183.40" y="0.00" font-size="27px">]</text>
<text x="-174.10" y="0.00" font-size="27px">/</text>
<text x="-166.50" y="0.00" font-size="27px">d</text>
<text x="-154.40" y="0.00" font-size="27px">T</text>
<text x="-139.10" y="0.00" font-size="28px">|</text>
</g>
</svg></body></html>
